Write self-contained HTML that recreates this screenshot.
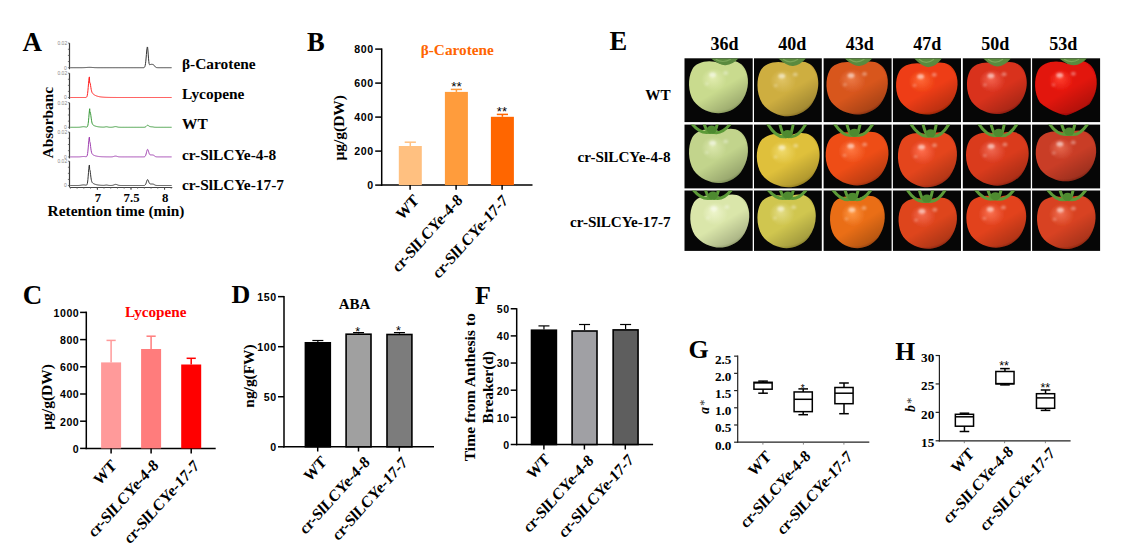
<!DOCTYPE html>
<html><head><meta charset="utf-8"><style>
html,body{margin:0;padding:0;background:#fff;width:1126px;height:556px;overflow:hidden}
svg{display:block}
</style></head><body>
<svg width="1126" height="556" viewBox="0 0 1126 556">
<rect width="1126" height="556" fill="#fff"/>
<text x="22.5" y="50.5" font-family='"Liberation Serif", serif' font-size="27" font-weight="bold" fill="#000" text-anchor="start" >A</text>
<line x1="69.50" y1="43.10" x2="69.50" y2="69.20" stroke="#3a3a3a" stroke-width="1.2" stroke-linecap="butt"/>
<line x1="67.90" y1="43.10" x2="69.50" y2="43.10" stroke="#555" stroke-width="0.8" stroke-linecap="butt"/>
<line x1="67.90" y1="49.25" x2="69.50" y2="49.25" stroke="#555" stroke-width="0.8" stroke-linecap="butt"/>
<line x1="67.90" y1="55.40" x2="69.50" y2="55.40" stroke="#555" stroke-width="0.8" stroke-linecap="butt"/>
<line x1="67.90" y1="61.55" x2="69.50" y2="61.55" stroke="#555" stroke-width="0.8" stroke-linecap="butt"/>
<line x1="67.90" y1="67.70" x2="69.50" y2="67.70" stroke="#555" stroke-width="0.8" stroke-linecap="butt"/>
<text x="67.2" y="45.1" font-family='"Liberation Sans", sans-serif' font-size="5" font-weight="normal" fill="#888" text-anchor="end" >0.02</text>
<text x="66.8" y="69.5" font-family='"Liberation Sans", sans-serif' font-size="5" font-weight="normal" fill="#888" text-anchor="end" >0</text>
<polyline points="70.2,67.70 70.5,67.70 70.8,67.70 71.1,67.70 71.4,67.70 71.7,67.70 72.0,67.70 72.3,67.70 72.6,67.70 72.9,67.70 73.2,67.70 73.5,67.70 73.8,67.70 74.1,67.70 74.4,67.70 74.7,67.70 75.0,67.70 75.3,67.70 75.6,67.70 75.9,67.70 76.2,67.70 76.5,67.70 76.8,67.70 77.1,67.70 77.4,67.70 77.7,67.70 78.0,67.70 78.3,67.70 78.6,67.70 78.9,67.70 79.2,67.70 79.5,67.70 79.8,67.70 80.1,67.70 80.4,67.70 80.7,67.70 81.0,67.69 81.3,67.69 81.6,67.69 81.9,67.69 82.2,67.68 82.5,67.68 82.8,67.67 83.1,67.66 83.4,67.66 83.7,67.65 84.0,67.63 84.3,67.62 84.6,67.61 84.9,67.59 85.2,67.57 85.5,67.56 85.8,67.54 86.1,67.52 86.4,67.49 86.7,67.47 87.0,67.45 87.3,67.43 87.6,67.41 87.9,67.40 88.2,67.38 88.5,67.37 88.8,67.36 89.1,67.35 89.4,67.35 89.7,67.35 90.0,67.35 90.3,67.36 90.6,67.37 90.9,67.39 91.2,67.40 91.5,67.42 91.8,67.44 92.1,67.46 92.4,67.48 92.7,67.50 93.0,67.52 93.3,67.54 93.6,67.56 93.9,67.58 94.2,67.60 94.5,67.61 94.8,67.63 95.1,67.64 95.4,67.65 95.7,67.66 96.0,67.67 96.3,67.67 96.6,67.68 96.9,67.68 97.2,67.69 97.5,67.69 97.8,67.69 98.1,67.69 98.4,67.70 98.7,67.70 99.0,67.70 99.3,67.70 99.6,67.70 99.9,67.70 100.2,67.70 100.5,67.70 100.8,67.70 101.1,67.70 101.4,67.70 101.7,67.70 102.0,67.70 102.3,67.70 102.6,67.70 102.9,67.70 103.2,67.70 103.5,67.70 103.8,67.70 104.1,67.70 104.4,67.70 104.7,67.70 105.0,67.70 105.3,67.70 105.6,67.70 105.9,67.70 106.2,67.70 106.5,67.70 106.8,67.70 107.1,67.70 107.4,67.70 107.7,67.70 108.0,67.70 108.3,67.70 108.6,67.70 108.9,67.70 109.2,67.70 109.5,67.70 109.8,67.70 110.1,67.70 110.4,67.70 110.7,67.70 111.0,67.70 111.3,67.70 111.6,67.70 111.9,67.70 112.2,67.70 112.5,67.70 112.8,67.70 113.1,67.70 113.4,67.70 113.7,67.70 114.0,67.70 114.3,67.70 114.6,67.70 114.9,67.70 115.2,67.70 115.5,67.70 115.8,67.70 116.1,67.70 116.4,67.70 116.7,67.70 117.0,67.70 117.3,67.70 117.6,67.70 117.9,67.70 118.2,67.70 118.5,67.70 118.8,67.70 119.1,67.70 119.4,67.70 119.7,67.70 120.0,67.70 120.3,67.70 120.6,67.70 120.9,67.70 121.2,67.70 121.5,67.70 121.8,67.70 122.1,67.70 122.4,67.70 122.7,67.70 123.0,67.70 123.3,67.70 123.6,67.70 123.9,67.70 124.2,67.70 124.5,67.70 124.8,67.70 125.1,67.70 125.4,67.70 125.7,67.70 126.0,67.70 126.3,67.70 126.6,67.70 126.9,67.70 127.2,67.70 127.5,67.70 127.8,67.70 128.1,67.70 128.4,67.70 128.7,67.70 129.0,67.70 129.3,67.70 129.6,67.70 129.9,67.70 130.2,67.70 130.5,67.70 130.8,67.70 131.1,67.70 131.4,67.70 131.7,67.70 132.0,67.70 132.3,67.70 132.6,67.70 132.9,67.70 133.2,67.70 133.5,67.70 133.8,67.70 134.1,67.70 134.4,67.70 134.7,67.70 135.0,67.70 135.3,67.70 135.6,67.70 135.9,67.70 136.2,67.70 136.5,67.70 136.8,67.70 137.1,67.70 137.4,67.70 137.7,67.70 138.0,67.70 138.3,67.70 138.6,67.70 138.9,67.70 139.2,67.70 139.5,67.70 139.8,67.70 140.1,67.70 140.4,67.70 140.7,67.70 141.0,67.70 141.3,67.70 141.6,67.70 141.9,67.70 142.2,67.70 142.5,67.70 142.8,67.70 143.1,67.70 143.4,67.69 143.7,67.66 144.0,67.59 144.3,67.43 144.6,67.11 144.9,66.48 145.2,65.38 145.5,63.65 145.8,61.18 146.1,58.03 146.4,54.48 146.7,51.03 147.0,48.34 147.3,46.95 147.6,47.39 147.9,50.06 148.2,54.07 148.5,58.21 148.8,61.50 149.1,63.56 149.4,64.51 149.7,64.76 150.0,64.70 150.3,64.57 150.6,64.47 150.9,64.40 151.2,64.36 151.5,64.34 151.8,64.34 152.1,64.36 152.4,64.39 152.7,64.44 153.0,64.52 153.3,64.65 153.6,64.84 153.9,65.11 154.2,65.45 154.5,65.86 154.8,66.28 155.1,66.67 155.4,66.99 155.7,67.23 156.0,67.40 156.3,67.51 156.6,67.58 156.9,67.63 157.2,67.66 157.5,67.67 157.8,67.68 158.1,67.69 158.4,67.69 158.7,67.70 159.0,67.70 159.3,67.70 159.6,67.70 159.9,67.70 160.2,67.70 160.5,67.70 160.8,67.70 161.1,67.70 161.4,67.70 161.7,67.70 162.0,67.70 162.3,67.70 162.6,67.70 162.9,67.70 163.2,67.70 163.5,67.70 163.8,67.70 164.1,67.70 164.4,67.70 164.7,67.70 165.0,67.70 165.3,67.70 165.6,67.70 165.9,67.70 166.2,67.70 166.5,67.70 166.8,67.70 167.1,67.70 167.4,67.70 167.7,67.70 168.0,67.70 168.3,67.70 168.6,67.70 168.9,67.70 169.2,67.70 169.5,67.70 169.8,67.70 170.1,67.70 170.4,67.70 170.7,67.70 171.0,67.70 171.3,67.70 171.6,67.70" fill="none" stroke="#333" stroke-width="1.0" stroke-linejoin="round"/>
<line x1="69.50" y1="73.20" x2="69.50" y2="99.00" stroke="#3a3a3a" stroke-width="1.2" stroke-linecap="butt"/>
<line x1="67.90" y1="73.20" x2="69.50" y2="73.20" stroke="#555" stroke-width="0.8" stroke-linecap="butt"/>
<line x1="67.90" y1="79.28" x2="69.50" y2="79.28" stroke="#555" stroke-width="0.8" stroke-linecap="butt"/>
<line x1="67.90" y1="85.35" x2="69.50" y2="85.35" stroke="#555" stroke-width="0.8" stroke-linecap="butt"/>
<line x1="67.90" y1="91.42" x2="69.50" y2="91.42" stroke="#555" stroke-width="0.8" stroke-linecap="butt"/>
<line x1="67.90" y1="97.50" x2="69.50" y2="97.50" stroke="#555" stroke-width="0.8" stroke-linecap="butt"/>
<text x="67.2" y="75.2" font-family='"Liberation Sans", sans-serif' font-size="5" font-weight="normal" fill="#888" text-anchor="end" >0.02</text>
<text x="66.8" y="99.3" font-family='"Liberation Sans", sans-serif' font-size="5" font-weight="normal" fill="#888" text-anchor="end" >0</text>
<polyline points="70.2,97.50 70.5,97.50 70.8,97.50 71.1,97.50 71.4,97.50 71.7,97.50 72.0,97.50 72.3,97.50 72.6,97.50 72.9,97.50 73.2,97.50 73.5,97.50 73.8,97.50 74.1,97.50 74.4,97.50 74.7,97.50 75.0,97.50 75.3,97.50 75.6,97.50 75.9,97.50 76.2,97.50 76.5,97.50 76.8,97.50 77.1,97.50 77.4,97.50 77.7,97.50 78.0,97.50 78.3,97.50 78.6,97.50 78.9,97.50 79.2,97.50 79.5,97.50 79.8,97.50 80.1,97.50 80.4,97.50 80.7,97.50 81.0,97.50 81.3,97.50 81.6,97.50 81.9,97.50 82.2,97.50 82.5,97.50 82.8,97.50 83.1,97.50 83.4,97.50 83.7,97.50 84.0,97.50 84.3,97.50 84.6,97.50 84.9,97.50 85.2,97.50 85.5,97.49 85.8,97.47 86.1,97.41 86.4,97.27 86.7,96.96 87.0,96.34 87.3,95.23 87.6,93.42 87.9,90.81 88.2,87.47 88.5,83.76 88.8,80.29 89.1,77.81 89.4,76.90 89.7,82.86 90.0,82.61 90.3,83.80 90.6,85.66 90.9,87.64 91.2,89.40 91.5,90.79 91.8,91.83 92.1,92.56 92.4,93.09 92.7,93.49 93.0,93.80 93.3,94.07 93.6,94.32 93.9,94.54 94.2,94.74 94.5,94.93 94.8,95.11 95.1,95.27 95.4,95.43 95.7,95.57 96.0,95.70 96.3,95.83 96.6,95.94 96.9,96.05 97.2,96.15 97.5,96.24 97.8,96.33 98.1,96.41 98.4,96.48 98.7,96.55 99.0,96.62 99.3,96.68 99.6,96.74 99.9,96.79 100.2,96.84 100.5,96.88 100.8,96.93 101.1,96.97 101.4,97.00 101.7,97.04 102.0,97.07 102.3,97.10 102.6,97.13 102.9,97.15 103.2,97.18 103.5,97.20 103.8,97.22 104.1,97.24 104.4,97.26 104.7,97.27 105.0,97.29 105.3,97.30 105.6,97.32 105.9,97.33 106.2,97.34 106.5,97.35 106.8,97.36 107.1,97.37 107.4,97.38 107.7,97.39 108.0,97.40 108.3,97.40 108.6,97.41 108.9,97.42 109.2,97.42 109.5,97.43 109.8,97.43 110.1,97.44 110.4,97.44 110.7,97.45 111.0,97.45 111.3,97.45 111.6,97.46 111.9,97.46 112.2,97.46 112.5,97.46 112.8,97.47 113.1,97.47 113.4,97.47 113.7,97.47 114.0,97.48 114.3,97.48 114.6,97.48 114.9,97.48 115.2,97.48 115.5,97.48 115.8,97.48 116.1,97.48 116.4,97.49 116.7,97.49 117.0,97.49 117.3,97.49 117.6,97.49 117.9,97.49 118.2,97.49 118.5,97.49 118.8,97.49 119.1,97.49 119.4,97.49 119.7,97.49 120.0,97.49 120.3,97.49 120.6,97.49 120.9,97.50 121.2,97.50 121.5,97.50 121.8,97.50 122.1,97.50 122.4,97.50 122.7,97.50 123.0,97.50 123.3,97.50 123.6,97.50 123.9,97.50 124.2,97.50 124.5,97.50 124.8,97.50 125.1,97.50 125.4,97.50 125.7,97.50 126.0,97.50 126.3,97.50 126.6,97.50 126.9,97.50 127.2,97.50 127.5,97.50 127.8,97.50 128.1,97.50 128.4,97.50 128.7,97.50 129.0,97.50 129.3,97.50 129.6,97.50 129.9,97.50 130.2,97.50 130.5,97.50 130.8,97.50 131.1,97.50 131.4,97.50 131.7,97.50 132.0,97.50 132.3,97.50 132.6,97.50 132.9,97.50 133.2,97.50 133.5,97.50 133.8,97.50 134.1,97.50 134.4,97.50 134.7,97.50 135.0,97.50 135.3,97.50 135.6,97.50 135.9,97.50 136.2,97.50 136.5,97.50 136.8,97.50 137.1,97.50 137.4,97.50 137.7,97.50 138.0,97.50 138.3,97.50 138.6,97.50 138.9,97.50 139.2,97.50 139.5,97.50 139.8,97.50 140.1,97.50 140.4,97.50 140.7,97.50 141.0,97.50 141.3,97.50 141.6,97.50 141.9,97.50 142.2,97.50 142.5,97.50 142.8,97.50 143.1,97.50 143.4,97.50 143.7,97.50 144.0,97.50 144.3,97.50 144.6,97.50 144.9,97.50 145.2,97.50 145.5,97.50 145.8,97.50 146.1,97.50 146.4,97.50 146.7,97.50 147.0,97.50 147.3,97.50 147.6,97.50 147.9,97.50 148.2,97.50 148.5,97.50 148.8,97.50 149.1,97.50 149.4,97.50 149.7,97.50 150.0,97.50 150.3,97.50 150.6,97.50 150.9,97.50 151.2,97.50 151.5,97.50 151.8,97.50 152.1,97.50 152.4,97.50 152.7,97.50 153.0,97.50 153.3,97.50 153.6,97.50 153.9,97.50 154.2,97.50 154.5,97.50 154.8,97.50 155.1,97.50 155.4,97.50 155.7,97.50 156.0,97.50 156.3,97.50 156.6,97.50 156.9,97.50 157.2,97.50 157.5,97.50 157.8,97.50 158.1,97.50 158.4,97.50 158.7,97.50 159.0,97.50 159.3,97.50 159.6,97.50 159.9,97.50 160.2,97.50 160.5,97.50 160.8,97.50 161.1,97.50 161.4,97.50 161.7,97.50 162.0,97.50 162.3,97.50 162.6,97.50 162.9,97.50 163.2,97.50 163.5,97.50 163.8,97.50 164.1,97.50 164.4,97.50 164.7,97.50 165.0,97.50 165.3,97.50 165.6,97.50 165.9,97.50 166.2,97.50 166.5,97.50 166.8,97.50 167.1,97.50 167.4,97.50 167.7,97.50 168.0,97.50 168.3,97.50 168.6,97.50 168.9,97.50 169.2,97.50 169.5,97.50 169.8,97.50 170.1,97.50 170.4,97.50 170.7,97.50 171.0,97.50 171.3,97.50 171.6,97.50" fill="none" stroke="#FF2020" stroke-width="1.0" stroke-linejoin="round"/>
<line x1="69.50" y1="102.70" x2="69.50" y2="128.80" stroke="#3a3a3a" stroke-width="1.2" stroke-linecap="butt"/>
<line x1="67.90" y1="102.70" x2="69.50" y2="102.70" stroke="#555" stroke-width="0.8" stroke-linecap="butt"/>
<line x1="67.90" y1="108.85" x2="69.50" y2="108.85" stroke="#555" stroke-width="0.8" stroke-linecap="butt"/>
<line x1="67.90" y1="115.00" x2="69.50" y2="115.00" stroke="#555" stroke-width="0.8" stroke-linecap="butt"/>
<line x1="67.90" y1="121.15" x2="69.50" y2="121.15" stroke="#555" stroke-width="0.8" stroke-linecap="butt"/>
<line x1="67.90" y1="127.30" x2="69.50" y2="127.30" stroke="#555" stroke-width="0.8" stroke-linecap="butt"/>
<text x="67.2" y="104.7" font-family='"Liberation Sans", sans-serif' font-size="5" font-weight="normal" fill="#888" text-anchor="end" >0.02</text>
<text x="66.8" y="129.1" font-family='"Liberation Sans", sans-serif' font-size="5" font-weight="normal" fill="#888" text-anchor="end" >0</text>
<polyline points="70.2,127.30 70.5,127.30 70.8,127.30 71.1,127.30 71.4,127.30 71.7,127.30 72.0,127.30 72.3,127.30 72.6,127.30 72.9,127.30 73.2,127.30 73.5,127.30 73.8,127.30 74.1,127.30 74.4,127.30 74.7,127.30 75.0,127.30 75.3,127.30 75.6,127.30 75.9,127.30 76.2,127.30 76.5,127.30 76.8,127.30 77.1,127.30 77.4,127.29 77.7,127.29 78.0,127.29 78.3,127.28 78.6,127.27 78.9,127.26 79.2,127.24 79.5,127.22 79.8,127.19 80.1,127.16 80.4,127.12 80.7,127.07 81.0,127.03 81.3,126.97 81.6,126.92 81.9,126.86 82.2,126.81 82.5,126.77 82.8,126.74 83.1,126.71 83.4,126.70 83.7,126.70 84.0,126.72 84.3,126.75 84.6,126.78 84.9,126.83 85.2,126.88 85.5,126.94 85.8,126.99 86.1,127.04 86.4,127.07 86.7,127.07 87.0,126.99 87.3,126.75 87.6,126.21 87.9,125.17 88.2,123.43 88.5,120.86 88.8,117.56 89.1,113.96 89.4,110.75 89.7,108.71 90.0,113.21 90.3,112.55 90.6,113.68 90.9,115.76 91.2,118.11 91.5,120.24 91.8,121.94 92.1,123.15 92.4,123.97 92.7,124.50 93.0,124.85 93.3,125.11 93.6,125.31 93.9,125.48 94.2,125.63 94.5,125.77 94.8,125.89 95.1,126.01 95.4,126.12 95.7,126.21 96.0,126.30 96.3,126.38 96.6,126.46 96.9,126.53 97.2,126.59 97.5,126.65 97.8,126.70 98.1,126.75 98.4,126.80 98.7,126.84 99.0,126.88 99.3,126.91 99.6,126.94 99.9,126.97 100.2,127.00 100.5,127.02 100.8,127.05 101.1,127.07 101.4,127.09 101.7,127.10 102.0,127.12 102.3,127.13 102.6,127.14 102.9,127.15 103.2,127.15 103.5,127.15 103.8,127.13 104.1,127.11 104.4,127.07 104.7,127.03 105.0,126.97 105.3,126.90 105.6,126.84 105.9,126.79 106.2,126.76 106.5,126.75 106.8,126.77 107.1,126.81 107.4,126.87 107.7,126.94 108.0,127.01 108.3,127.08 108.6,127.14 108.9,127.18 109.2,127.22 109.5,127.24 109.8,127.26 110.1,127.27 110.4,127.27 110.7,127.27 111.0,127.27 111.3,127.26 111.6,127.25 111.9,127.23 112.2,127.21 112.5,127.17 112.8,127.12 113.1,127.07 113.4,127.00 113.7,126.92 114.0,126.84 114.3,126.77 114.6,126.70 114.9,126.64 115.2,126.61 115.5,126.60 115.8,126.61 116.1,126.64 116.4,126.70 116.7,126.77 117.0,126.85 117.3,126.93 117.6,127.00 117.9,127.07 118.2,127.13 118.5,127.18 118.8,127.22 119.1,127.24 119.4,127.26 119.7,127.28 120.0,127.29 120.3,127.29 120.6,127.29 120.9,127.30 121.2,127.30 121.5,127.30 121.8,127.30 122.1,127.30 122.4,127.30 122.7,127.30 123.0,127.30 123.3,127.30 123.6,127.30 123.9,127.30 124.2,127.30 124.5,127.30 124.8,127.30 125.1,127.30 125.4,127.30 125.7,127.30 126.0,127.30 126.3,127.30 126.6,127.30 126.9,127.30 127.2,127.30 127.5,127.30 127.8,127.30 128.1,127.30 128.4,127.30 128.7,127.30 129.0,127.30 129.3,127.30 129.6,127.30 129.9,127.30 130.2,127.30 130.5,127.30 130.8,127.30 131.1,127.30 131.4,127.30 131.7,127.30 132.0,127.30 132.3,127.30 132.6,127.30 132.9,127.30 133.2,127.30 133.5,127.30 133.8,127.30 134.1,127.30 134.4,127.30 134.7,127.30 135.0,127.30 135.3,127.30 135.6,127.30 135.9,127.30 136.2,127.30 136.5,127.30 136.8,127.30 137.1,127.30 137.4,127.30 137.7,127.30 138.0,127.30 138.3,127.30 138.6,127.30 138.9,127.30 139.2,127.30 139.5,127.30 139.8,127.30 140.1,127.30 140.4,127.30 140.7,127.30 141.0,127.30 141.3,127.30 141.6,127.30 141.9,127.30 142.2,127.30 142.5,127.30 142.8,127.30 143.1,127.30 143.4,127.30 143.7,127.29 144.0,127.28 144.3,127.25 144.6,127.21 144.9,127.14 145.2,127.03 145.5,126.87 145.8,126.65 146.1,126.38 146.4,126.09 146.7,125.79 147.0,125.53 147.3,125.36 147.6,125.29 147.9,125.34 148.2,125.48 148.5,125.68 148.8,125.91 149.1,126.13 149.4,126.31 149.7,126.45 150.0,126.56 150.3,126.64 150.6,126.70 150.9,126.75 151.2,126.78 151.5,126.80 151.8,126.82 152.1,126.84 152.4,126.87 152.7,126.90 153.0,126.95 153.3,127.01 153.6,127.07 153.9,127.13 154.2,127.18 154.5,127.22 154.8,127.25 155.1,127.27 155.4,127.28 155.7,127.29 156.0,127.29 156.3,127.30 156.6,127.30 156.9,127.30 157.2,127.30 157.5,127.30 157.8,127.30 158.1,127.30 158.4,127.30 158.7,127.30 159.0,127.30 159.3,127.30 159.6,127.30 159.9,127.30 160.2,127.30 160.5,127.30 160.8,127.30 161.1,127.30 161.4,127.30 161.7,127.30 162.0,127.30 162.3,127.30 162.6,127.30 162.9,127.30 163.2,127.30 163.5,127.30 163.8,127.30 164.1,127.30 164.4,127.30 164.7,127.30 165.0,127.30 165.3,127.30 165.6,127.30 165.9,127.30 166.2,127.30 166.5,127.30 166.8,127.30 167.1,127.30 167.4,127.30 167.7,127.30 168.0,127.30 168.3,127.30 168.6,127.30 168.9,127.30 169.2,127.30 169.5,127.30 169.8,127.30 170.1,127.30 170.4,127.30 170.7,127.30 171.0,127.30 171.3,127.30 171.6,127.30" fill="none" stroke="#3A9A3A" stroke-width="1.0" stroke-linejoin="round"/>
<line x1="69.50" y1="132.10" x2="69.50" y2="158.40" stroke="#3a3a3a" stroke-width="1.2" stroke-linecap="butt"/>
<line x1="67.90" y1="132.10" x2="69.50" y2="132.10" stroke="#555" stroke-width="0.8" stroke-linecap="butt"/>
<line x1="67.90" y1="138.30" x2="69.50" y2="138.30" stroke="#555" stroke-width="0.8" stroke-linecap="butt"/>
<line x1="67.90" y1="144.50" x2="69.50" y2="144.50" stroke="#555" stroke-width="0.8" stroke-linecap="butt"/>
<line x1="67.90" y1="150.70" x2="69.50" y2="150.70" stroke="#555" stroke-width="0.8" stroke-linecap="butt"/>
<line x1="67.90" y1="156.90" x2="69.50" y2="156.90" stroke="#555" stroke-width="0.8" stroke-linecap="butt"/>
<text x="67.2" y="134.1" font-family='"Liberation Sans", sans-serif' font-size="5" font-weight="normal" fill="#888" text-anchor="end" >0.02</text>
<text x="66.8" y="158.7" font-family='"Liberation Sans", sans-serif' font-size="5" font-weight="normal" fill="#888" text-anchor="end" >0</text>
<polyline points="70.2,156.90 70.5,156.90 70.8,156.90 71.1,156.90 71.4,156.90 71.7,156.90 72.0,156.90 72.3,156.90 72.6,156.90 72.9,156.90 73.2,156.90 73.5,156.90 73.8,156.90 74.1,156.90 74.4,156.90 74.7,156.90 75.0,156.90 75.3,156.90 75.6,156.90 75.9,156.90 76.2,156.90 76.5,156.90 76.8,156.90 77.1,156.90 77.4,156.90 77.7,156.89 78.0,156.89 78.3,156.89 78.6,156.88 78.9,156.87 79.2,156.86 79.5,156.85 79.8,156.83 80.1,156.81 80.4,156.78 80.7,156.75 81.0,156.72 81.3,156.68 81.6,156.65 81.9,156.61 82.2,156.58 82.5,156.55 82.8,156.52 83.1,156.51 83.4,156.50 83.7,156.50 84.0,156.51 84.3,156.53 84.6,156.56 84.9,156.59 85.2,156.62 85.5,156.65 85.8,156.68 86.1,156.68 86.4,156.62 86.7,156.44 87.0,156.00 87.3,155.11 87.6,153.56 87.9,151.17 88.2,147.96 88.5,144.24 88.8,140.67 89.1,138.06 89.4,137.09 89.7,141.50 90.0,142.16 90.3,144.09 90.6,146.51 90.9,148.85 91.2,150.78 91.5,152.21 91.8,153.18 92.1,153.82 92.4,154.24 92.7,154.54 93.0,154.76 93.3,154.95 93.6,155.11 93.9,155.26 94.2,155.39 94.5,155.52 94.8,155.63 95.1,155.73 95.4,155.83 95.7,155.92 96.0,156.00 96.3,156.07 96.6,156.14 96.9,156.20 97.2,156.26 97.5,156.31 97.8,156.36 98.1,156.41 98.4,156.45 98.7,156.48 99.0,156.52 99.3,156.55 99.6,156.58 99.9,156.60 100.2,156.63 100.5,156.65 100.8,156.67 101.1,156.69 101.4,156.71 101.7,156.72 102.0,156.74 102.3,156.75 102.6,156.76 102.9,156.77 103.2,156.78 103.5,156.79 103.8,156.80 104.1,156.81 104.4,156.82 104.7,156.82 105.0,156.83 105.3,156.84 105.6,156.84 105.9,156.85 106.2,156.85 106.5,156.86 106.8,156.86 107.1,156.86 107.4,156.87 107.7,156.87 108.0,156.87 108.3,156.87 108.6,156.88 108.9,156.88 109.2,156.88 109.5,156.88 109.8,156.88 110.1,156.88 110.4,156.88 110.7,156.88 111.0,156.87 111.3,156.86 111.6,156.85 111.9,156.83 112.2,156.80 112.5,156.75 112.8,156.70 113.1,156.63 113.4,156.56 113.7,156.47 114.0,156.38 114.3,156.29 114.6,156.21 114.9,156.15 115.2,156.11 115.5,156.10 115.8,156.11 116.1,156.15 116.4,156.21 116.7,156.29 117.0,156.38 117.3,156.47 117.6,156.56 117.9,156.64 118.2,156.71 118.5,156.76 118.8,156.80 119.1,156.84 119.4,156.86 119.7,156.87 120.0,156.88 120.3,156.89 120.6,156.89 120.9,156.90 121.2,156.90 121.5,156.90 121.8,156.90 122.1,156.90 122.4,156.90 122.7,156.90 123.0,156.90 123.3,156.90 123.6,156.90 123.9,156.90 124.2,156.90 124.5,156.90 124.8,156.90 125.1,156.90 125.4,156.90 125.7,156.90 126.0,156.90 126.3,156.90 126.6,156.90 126.9,156.90 127.2,156.90 127.5,156.90 127.8,156.90 128.1,156.90 128.4,156.90 128.7,156.90 129.0,156.90 129.3,156.90 129.6,156.90 129.9,156.90 130.2,156.90 130.5,156.90 130.8,156.90 131.1,156.90 131.4,156.90 131.7,156.90 132.0,156.90 132.3,156.90 132.6,156.90 132.9,156.90 133.2,156.90 133.5,156.90 133.8,156.90 134.1,156.90 134.4,156.90 134.7,156.90 135.0,156.90 135.3,156.90 135.6,156.90 135.9,156.90 136.2,156.90 136.5,156.90 136.8,156.90 137.1,156.90 137.4,156.90 137.7,156.90 138.0,156.90 138.3,156.90 138.6,156.90 138.9,156.90 139.2,156.90 139.5,156.90 139.8,156.90 140.1,156.90 140.4,156.90 140.7,156.90 141.0,156.90 141.3,156.90 141.6,156.90 141.9,156.90 142.2,156.90 142.5,156.90 142.8,156.90 143.1,156.90 143.4,156.89 143.7,156.89 144.0,156.86 144.3,156.82 144.6,156.72 144.9,156.53 145.2,156.21 145.5,155.69 145.8,154.93 146.1,153.94 146.4,152.76 146.7,151.53 147.0,150.43 147.3,149.66 147.6,149.37 147.9,149.62 148.2,150.33 148.5,151.34 148.8,152.41 149.1,153.36 149.4,154.04 149.7,154.47 150.0,154.70 150.3,154.82 150.6,154.88 150.9,154.91 151.2,154.92 151.5,154.92 151.8,154.93 152.1,154.94 152.4,154.96 152.7,155.00 153.0,155.05 153.3,155.14 153.6,155.27 153.9,155.44 154.2,155.66 154.5,155.90 154.8,156.14 155.1,156.36 155.4,156.54 155.7,156.66 156.0,156.75 156.3,156.81 156.6,156.84 156.9,156.86 157.2,156.88 157.5,156.89 157.8,156.89 158.1,156.90 158.4,156.90 158.7,156.90 159.0,156.90 159.3,156.90 159.6,156.90 159.9,156.90 160.2,156.90 160.5,156.90 160.8,156.90 161.1,156.90 161.4,156.90 161.7,156.90 162.0,156.90 162.3,156.90 162.6,156.90 162.9,156.90 163.2,156.90 163.5,156.90 163.8,156.90 164.1,156.90 164.4,156.90 164.7,156.90 165.0,156.90 165.3,156.90 165.6,156.90 165.9,156.90 166.2,156.90 166.5,156.90 166.8,156.90 167.1,156.90 167.4,156.90 167.7,156.90 168.0,156.90 168.3,156.90 168.6,156.90 168.9,156.90 169.2,156.90 169.5,156.90 169.8,156.90 170.1,156.90 170.4,156.90 170.7,156.90 171.0,156.90 171.3,156.90 171.6,156.90" fill="none" stroke="#A040B0" stroke-width="1.0" stroke-linejoin="round"/>
<line x1="69.50" y1="161.20" x2="69.50" y2="187.00" stroke="#3a3a3a" stroke-width="1.2" stroke-linecap="butt"/>
<line x1="67.90" y1="161.20" x2="69.50" y2="161.20" stroke="#555" stroke-width="0.8" stroke-linecap="butt"/>
<line x1="67.90" y1="167.27" x2="69.50" y2="167.27" stroke="#555" stroke-width="0.8" stroke-linecap="butt"/>
<line x1="67.90" y1="173.35" x2="69.50" y2="173.35" stroke="#555" stroke-width="0.8" stroke-linecap="butt"/>
<line x1="67.90" y1="179.43" x2="69.50" y2="179.43" stroke="#555" stroke-width="0.8" stroke-linecap="butt"/>
<line x1="67.90" y1="185.50" x2="69.50" y2="185.50" stroke="#555" stroke-width="0.8" stroke-linecap="butt"/>
<text x="67.2" y="163.2" font-family='"Liberation Sans", sans-serif' font-size="5" font-weight="normal" fill="#888" text-anchor="end" >0.02</text>
<text x="66.8" y="187.3" font-family='"Liberation Sans", sans-serif' font-size="5" font-weight="normal" fill="#888" text-anchor="end" >0</text>
<polyline points="70.2,185.50 70.5,185.50 70.8,185.50 71.1,185.50 71.4,185.50 71.7,185.50 72.0,185.50 72.3,185.50 72.6,185.50 72.9,185.50 73.2,185.50 73.5,185.50 73.8,185.50 74.1,185.50 74.4,185.50 74.7,185.50 75.0,185.50 75.3,185.50 75.6,185.50 75.9,185.50 76.2,185.50 76.5,185.50 76.8,185.50 77.1,185.50 77.4,185.49 77.7,185.49 78.0,185.49 78.3,185.48 78.6,185.47 78.9,185.46 79.2,185.44 79.5,185.42 79.8,185.39 80.1,185.36 80.4,185.32 80.7,185.27 81.0,185.23 81.3,185.17 81.6,185.12 81.9,185.06 82.2,185.01 82.5,184.97 82.8,184.94 83.1,184.91 83.4,184.90 83.7,184.90 84.0,184.92 84.3,184.95 84.6,184.98 84.9,185.03 85.2,185.08 85.5,185.13 85.8,185.17 86.1,185.19 86.4,185.15 86.7,184.97 87.0,184.53 87.3,183.62 87.6,182.02 87.9,179.55 88.2,176.23 88.5,172.39 88.8,168.69 89.1,165.99 89.4,164.99 89.7,169.56 90.0,170.24 90.3,172.23 90.6,174.74 90.9,177.16 91.2,179.17 91.5,180.64 91.8,181.65 92.1,182.31 92.4,182.75 92.7,183.05 93.0,183.28 93.3,183.48 93.6,183.65 93.9,183.80 94.2,183.94 94.5,184.07 94.8,184.19 95.1,184.29 95.4,184.39 95.7,184.48 96.0,184.57 96.3,184.64 96.6,184.71 96.9,184.78 97.2,184.84 97.5,184.89 97.8,184.94 98.1,184.99 98.4,185.03 98.7,185.07 99.0,185.10 99.3,185.14 99.6,185.17 99.9,185.19 100.2,185.22 100.5,185.24 100.8,185.26 101.1,185.28 101.4,185.30 101.7,185.32 102.0,185.33 102.3,185.34 102.6,185.35 102.9,185.36 103.2,185.36 103.5,185.36 103.8,185.35 104.1,185.34 104.4,185.31 104.7,185.27 105.0,185.22 105.3,185.17 105.6,185.13 105.9,185.09 106.2,185.06 106.5,185.05 106.8,185.07 107.1,185.10 107.4,185.15 107.7,185.21 108.0,185.26 108.3,185.32 108.6,185.37 108.9,185.40 109.2,185.43 109.5,185.45 109.8,185.46 110.1,185.47 110.4,185.48 110.7,185.48 111.0,185.47 111.3,185.46 111.6,185.45 111.9,185.42 112.2,185.39 112.5,185.34 112.8,185.28 113.1,185.20 113.4,185.10 113.7,184.99 114.0,184.87 114.3,184.74 114.6,184.63 114.9,184.53 115.2,184.45 115.5,184.41 115.8,184.40 116.1,184.43 116.4,184.50 116.7,184.59 117.0,184.71 117.3,184.83 117.6,184.95 117.9,185.07 118.2,185.17 118.5,185.26 118.8,185.33 119.1,185.38 119.4,185.42 119.7,185.45 120.0,185.47 120.3,185.48 120.6,185.49 120.9,185.49 121.2,185.50 121.5,185.50 121.8,185.50 122.1,185.50 122.4,185.50 122.7,185.50 123.0,185.50 123.3,185.50 123.6,185.50 123.9,185.50 124.2,185.50 124.5,185.50 124.8,185.50 125.1,185.50 125.4,185.50 125.7,185.50 126.0,185.50 126.3,185.50 126.6,185.50 126.9,185.50 127.2,185.50 127.5,185.50 127.8,185.50 128.1,185.50 128.4,185.50 128.7,185.50 129.0,185.50 129.3,185.50 129.6,185.50 129.9,185.50 130.2,185.50 130.5,185.50 130.8,185.50 131.1,185.50 131.4,185.50 131.7,185.50 132.0,185.50 132.3,185.50 132.6,185.50 132.9,185.50 133.2,185.50 133.5,185.50 133.8,185.50 134.1,185.50 134.4,185.50 134.7,185.50 135.0,185.50 135.3,185.50 135.6,185.50 135.9,185.50 136.2,185.50 136.5,185.50 136.8,185.50 137.1,185.50 137.4,185.50 137.7,185.50 138.0,185.50 138.3,185.50 138.6,185.50 138.9,185.50 139.2,185.50 139.5,185.50 139.8,185.50 140.1,185.50 140.4,185.50 140.7,185.50 141.0,185.50 141.3,185.50 141.6,185.50 141.9,185.50 142.2,185.50 142.5,185.50 142.8,185.50 143.1,185.50 143.4,185.50 143.7,185.49 144.0,185.47 144.3,185.43 144.6,185.36 144.9,185.21 145.2,184.95 145.5,184.55 145.8,183.95 146.1,183.17 146.4,182.24 146.7,181.28 147.0,180.41 147.3,179.80 147.6,179.58 147.9,179.77 148.2,180.34 148.5,181.13 148.8,181.98 149.1,182.73 149.4,183.29 149.7,183.63 150.0,183.83 150.3,183.93 150.6,183.98 150.9,184.00 151.2,184.01 151.5,184.02 151.8,184.02 152.1,184.03 152.4,184.05 152.7,184.07 153.0,184.11 153.3,184.18 153.6,184.27 153.9,184.40 154.2,184.57 154.5,184.75 154.8,184.93 155.1,185.10 155.4,185.23 155.7,185.32 156.0,185.39 156.3,185.43 156.6,185.46 156.9,185.47 157.2,185.48 157.5,185.49 157.8,185.49 158.1,185.50 158.4,185.50 158.7,185.50 159.0,185.50 159.3,185.50 159.6,185.50 159.9,185.50 160.2,185.50 160.5,185.50 160.8,185.50 161.1,185.50 161.4,185.50 161.7,185.50 162.0,185.50 162.3,185.50 162.6,185.50 162.9,185.50 163.2,185.50 163.5,185.50 163.8,185.50 164.1,185.50 164.4,185.50 164.7,185.50 165.0,185.50 165.3,185.50 165.6,185.50 165.9,185.50 166.2,185.50 166.5,185.50 166.8,185.50 167.1,185.50 167.4,185.50 167.7,185.50 168.0,185.50 168.3,185.50 168.6,185.50 168.9,185.50 169.2,185.50 169.5,185.50 169.8,185.50 170.1,185.50 170.4,185.50 170.7,185.50 171.0,185.50 171.3,185.50 171.6,185.50" fill="none" stroke="#333" stroke-width="1.0" stroke-linejoin="round"/>
<line x1="69.50" y1="187.50" x2="172.30" y2="187.50" stroke="#444" stroke-width="1.1" stroke-linecap="butt"/>
<line x1="70.40" y1="187.50" x2="70.40" y2="189.00" stroke="#777" stroke-width="0.7" stroke-linecap="butt"/>
<line x1="77.12" y1="187.50" x2="77.12" y2="189.00" stroke="#777" stroke-width="0.7" stroke-linecap="butt"/>
<line x1="83.84" y1="187.50" x2="83.84" y2="189.00" stroke="#777" stroke-width="0.7" stroke-linecap="butt"/>
<line x1="90.56" y1="187.50" x2="90.56" y2="189.00" stroke="#777" stroke-width="0.7" stroke-linecap="butt"/>
<line x1="97.28" y1="187.50" x2="97.28" y2="189.00" stroke="#777" stroke-width="0.7" stroke-linecap="butt"/>
<line x1="104.00" y1="187.50" x2="104.00" y2="189.00" stroke="#777" stroke-width="0.7" stroke-linecap="butt"/>
<line x1="110.72" y1="187.50" x2="110.72" y2="189.00" stroke="#777" stroke-width="0.7" stroke-linecap="butt"/>
<line x1="117.44" y1="187.50" x2="117.44" y2="189.00" stroke="#777" stroke-width="0.7" stroke-linecap="butt"/>
<line x1="124.16" y1="187.50" x2="124.16" y2="189.00" stroke="#777" stroke-width="0.7" stroke-linecap="butt"/>
<line x1="130.88" y1="187.50" x2="130.88" y2="189.00" stroke="#777" stroke-width="0.7" stroke-linecap="butt"/>
<line x1="137.60" y1="187.50" x2="137.60" y2="189.00" stroke="#777" stroke-width="0.7" stroke-linecap="butt"/>
<line x1="144.32" y1="187.50" x2="144.32" y2="189.00" stroke="#777" stroke-width="0.7" stroke-linecap="butt"/>
<line x1="151.04" y1="187.50" x2="151.04" y2="189.00" stroke="#777" stroke-width="0.7" stroke-linecap="butt"/>
<line x1="157.76" y1="187.50" x2="157.76" y2="189.00" stroke="#777" stroke-width="0.7" stroke-linecap="butt"/>
<line x1="164.48" y1="187.50" x2="164.48" y2="189.00" stroke="#777" stroke-width="0.7" stroke-linecap="butt"/>
<line x1="171.20" y1="187.50" x2="171.20" y2="189.00" stroke="#777" stroke-width="0.7" stroke-linecap="butt"/>
<line x1="97.40" y1="187.50" x2="97.40" y2="189.80" stroke="#444" stroke-width="1.0" stroke-linecap="butt"/>
<text x="98.0" y="201.6" font-family='"Liberation Serif", serif' font-size="12.8" font-weight="bold" fill="#000" text-anchor="middle" >7</text>
<line x1="131.00" y1="187.50" x2="131.00" y2="189.80" stroke="#444" stroke-width="1.0" stroke-linecap="butt"/>
<text x="131.6" y="201.6" font-family='"Liberation Serif", serif' font-size="12.8" font-weight="bold" fill="#000" text-anchor="middle" >7.5</text>
<line x1="164.60" y1="187.50" x2="164.60" y2="189.80" stroke="#444" stroke-width="1.0" stroke-linecap="butt"/>
<text x="165.2" y="201.6" font-family='"Liberation Serif", serif' font-size="12.8" font-weight="bold" fill="#000" text-anchor="middle" >8</text>
<text x="116" y="216.3" font-family='"Liberation Serif", serif' font-size="15.4" font-weight="bold" fill="#000" text-anchor="middle" >Retention time (min)</text>
<text transform="translate(53.3,122.7) rotate(-90)" font-family='"Liberation Serif", serif' font-size="15.3" font-weight="bold" fill="#000" text-anchor="middle">Absorbanc</text>
<text x="182" y="69.4" font-family='"Liberation Serif", serif' font-size="15.4" font-weight="bold" fill="#000" text-anchor="start" >β-Carotene</text>
<text x="182" y="99.4" font-family='"Liberation Serif", serif' font-size="15.4" font-weight="bold" fill="#000" text-anchor="start" >Lycopene</text>
<text x="182" y="129.4" font-family='"Liberation Serif", serif' font-size="15.4" font-weight="bold" fill="#000" text-anchor="start" >WT</text>
<text x="182" y="160.1" font-family='"Liberation Serif", serif' font-size="15.4" font-weight="bold" fill="#000" text-anchor="start" >cr-SlLCYe-4-8</text>
<text x="182" y="190.2" font-family='"Liberation Serif", serif' font-size="15.4" font-weight="bold" fill="#000" text-anchor="start" >cr-SlLCYe-17-7</text>
<text x="307" y="50.6" font-family='"Liberation Serif", serif' font-size="26.5" font-weight="bold" fill="#000" text-anchor="start" >B</text>
<line x1="381.70" y1="48.40" x2="381.70" y2="185.85" stroke="#000" stroke-width="1.5" stroke-linecap="butt"/>
<line x1="375.20" y1="185.10" x2="381.70" y2="185.10" stroke="#000" stroke-width="1.5" stroke-linecap="butt"/>
<text x="373.59999999999997" y="189.49" font-family='"Liberation Sans", sans-serif' font-size="10.6" font-weight="bold" text-anchor="end" letter-spacing="0.55">0</text>
<line x1="375.20" y1="151.10" x2="381.70" y2="151.10" stroke="#000" stroke-width="1.5" stroke-linecap="butt"/>
<text x="373.59999999999997" y="155.49" font-family='"Liberation Sans", sans-serif' font-size="10.6" font-weight="bold" text-anchor="end" letter-spacing="0.55">200</text>
<line x1="375.20" y1="117.10" x2="381.70" y2="117.10" stroke="#000" stroke-width="1.5" stroke-linecap="butt"/>
<text x="373.59999999999997" y="121.49" font-family='"Liberation Sans", sans-serif' font-size="10.6" font-weight="bold" text-anchor="end" letter-spacing="0.55">400</text>
<line x1="375.20" y1="83.10" x2="381.70" y2="83.10" stroke="#000" stroke-width="1.5" stroke-linecap="butt"/>
<text x="373.59999999999997" y="87.49" font-family='"Liberation Sans", sans-serif' font-size="10.6" font-weight="bold" text-anchor="end" letter-spacing="0.55">600</text>
<line x1="375.20" y1="49.10" x2="381.70" y2="49.10" stroke="#000" stroke-width="1.5" stroke-linecap="butt"/>
<text x="373.59999999999997" y="53.49" font-family='"Liberation Sans", sans-serif' font-size="10.6" font-weight="bold" text-anchor="end" letter-spacing="0.55">800</text>
<line x1="380.95" y1="185.10" x2="532.50" y2="185.10" stroke="#000" stroke-width="1.5" stroke-linecap="butt"/>
<rect x="398.80" y="146.00" width="23.00" height="39.10" fill="#FFC080"/>
<line x1="410.30" y1="142.20" x2="410.30" y2="146.00" stroke="#FFC080" stroke-width="1.5" stroke-linecap="butt"/>
<line x1="404.70" y1="142.20" x2="415.90" y2="142.20" stroke="#FFC080" stroke-width="1.5" stroke-linecap="butt"/>
<rect x="444.90" y="91.90" width="23.00" height="93.20" fill="#FF9C3C"/>
<line x1="456.40" y1="89.40" x2="456.40" y2="91.90" stroke="#FF9C3C" stroke-width="1.5" stroke-linecap="butt"/>
<line x1="450.80" y1="89.40" x2="462.00" y2="89.40" stroke="#FF9C3C" stroke-width="1.5" stroke-linecap="butt"/>
<rect x="490.90" y="116.80" width="23.00" height="68.30" fill="#FF6600"/>
<line x1="502.40" y1="114.40" x2="502.40" y2="116.80" stroke="#FF6600" stroke-width="1.5" stroke-linecap="butt"/>
<line x1="496.80" y1="114.40" x2="508.00" y2="114.40" stroke="#FF6600" stroke-width="1.5" stroke-linecap="butt"/>
<line x1="410.10" y1="185.10" x2="410.10" y2="189.70" stroke="#000" stroke-width="1.5" stroke-linecap="butt"/>
<line x1="456.10" y1="185.10" x2="456.10" y2="189.70" stroke="#000" stroke-width="1.5" stroke-linecap="butt"/>
<line x1="502.10" y1="185.10" x2="502.10" y2="189.70" stroke="#000" stroke-width="1.5" stroke-linecap="butt"/>
<text x="456.6" y="91.0" font-family='"Liberation Sans", sans-serif' font-size="13.5" font-weight="normal" fill="#000" text-anchor="middle" >**</text>
<text x="501.9" y="116.0" font-family='"Liberation Sans", sans-serif' font-size="13" font-weight="normal" fill="#000" text-anchor="middle" >**</text>
<text x="457.3" y="54.7" font-family='"Liberation Serif", serif' font-size="15.3" font-weight="bold" fill="#FF6600" text-anchor="middle" >β-Carotene</text>
<text transform="translate(344,127.8) rotate(-90)" font-family='"Liberation Serif", serif' font-size="15.5" font-weight="bold" fill="#000" text-anchor="middle">μg/g(DW)</text>
<text transform="translate(419.65,201.35) scale(1,1.11) rotate(-45)" font-family='"Liberation Serif", serif' font-size="15" font-weight="bold" text-anchor="end">WT</text>
<text transform="translate(463.3,201.1) scale(1,1.11) rotate(-45)" font-family='"Liberation Serif", serif' font-size="15" font-weight="bold" text-anchor="end">cr-SlLCYe-4-8</text>
<text transform="translate(508.8,201.5) scale(1,1.11) rotate(-45)" font-family='"Liberation Serif", serif' font-size="15" font-weight="bold" text-anchor="end">cr-SlLCYe-17-7</text>
<text x="22.8" y="303.6" font-family='"Liberation Serif", serif' font-size="27" font-weight="bold" fill="#000" text-anchor="start" >C</text>
<line x1="86.30" y1="311.60" x2="86.30" y2="449.15" stroke="#000" stroke-width="1.5" stroke-linecap="butt"/>
<line x1="80.10" y1="448.40" x2="86.30" y2="448.40" stroke="#000" stroke-width="1.5" stroke-linecap="butt"/>
<text x="79.30000000000001" y="452.79" font-family='"Liberation Sans", sans-serif' font-size="10.6" font-weight="bold" text-anchor="end" letter-spacing="0.55">0</text>
<line x1="80.10" y1="421.20" x2="86.30" y2="421.20" stroke="#000" stroke-width="1.5" stroke-linecap="butt"/>
<text x="79.30000000000001" y="425.59" font-family='"Liberation Sans", sans-serif' font-size="10.6" font-weight="bold" text-anchor="end" letter-spacing="0.55">200</text>
<line x1="80.10" y1="394.00" x2="86.30" y2="394.00" stroke="#000" stroke-width="1.5" stroke-linecap="butt"/>
<text x="79.30000000000001" y="398.39" font-family='"Liberation Sans", sans-serif' font-size="10.6" font-weight="bold" text-anchor="end" letter-spacing="0.55">400</text>
<line x1="80.10" y1="366.80" x2="86.30" y2="366.80" stroke="#000" stroke-width="1.5" stroke-linecap="butt"/>
<text x="79.30000000000001" y="371.19" font-family='"Liberation Sans", sans-serif' font-size="10.6" font-weight="bold" text-anchor="end" letter-spacing="0.55">600</text>
<line x1="80.10" y1="339.60" x2="86.30" y2="339.60" stroke="#000" stroke-width="1.5" stroke-linecap="butt"/>
<text x="79.30000000000001" y="343.99" font-family='"Liberation Sans", sans-serif' font-size="10.6" font-weight="bold" text-anchor="end" letter-spacing="0.55">800</text>
<line x1="80.10" y1="312.40" x2="86.30" y2="312.40" stroke="#000" stroke-width="1.5" stroke-linecap="butt"/>
<text x="79.30000000000001" y="316.79" font-family='"Liberation Sans", sans-serif' font-size="10.6" font-weight="bold" text-anchor="end" letter-spacing="0.55">1000</text>
<line x1="85.55" y1="448.40" x2="215.70" y2="448.40" stroke="#000" stroke-width="1.5" stroke-linecap="butt"/>
<rect x="101.10" y="362.40" width="20.00" height="86.00" fill="#FF9A9A"/>
<line x1="111.10" y1="340.40" x2="111.10" y2="362.40" stroke="#FF9A9A" stroke-width="1.5" stroke-linecap="butt"/>
<line x1="106.50" y1="340.40" x2="115.70" y2="340.40" stroke="#FF9A9A" stroke-width="1.5" stroke-linecap="butt"/>
<line x1="111.10" y1="448.40" x2="111.10" y2="453.40" stroke="#000" stroke-width="1.5" stroke-linecap="butt"/>
<rect x="141.10" y="349.00" width="20.00" height="99.40" fill="#FF7C7C"/>
<line x1="151.10" y1="336.20" x2="151.10" y2="349.00" stroke="#FF7C7C" stroke-width="1.5" stroke-linecap="butt"/>
<line x1="146.50" y1="336.20" x2="155.70" y2="336.20" stroke="#FF7C7C" stroke-width="1.5" stroke-linecap="butt"/>
<line x1="151.10" y1="448.40" x2="151.10" y2="453.40" stroke="#000" stroke-width="1.5" stroke-linecap="butt"/>
<rect x="181.20" y="364.50" width="20.00" height="83.90" fill="#FF0000"/>
<line x1="191.20" y1="358.30" x2="191.20" y2="364.50" stroke="#FF0000" stroke-width="1.5" stroke-linecap="butt"/>
<line x1="186.60" y1="358.30" x2="195.80" y2="358.30" stroke="#FF0000" stroke-width="1.5" stroke-linecap="butt"/>
<line x1="191.20" y1="448.40" x2="191.20" y2="453.40" stroke="#000" stroke-width="1.5" stroke-linecap="butt"/>
<text x="155.7" y="316.7" font-family='"Liberation Serif", serif' font-size="15.2" font-weight="bold" fill="#FF0000" text-anchor="middle" >Lycopene</text>
<text transform="translate(51.5,396.9) rotate(-90)" font-family='"Liberation Serif", serif' font-size="15.5" font-weight="bold" fill="#000" text-anchor="middle">μg/g(DW)</text>
<text transform="translate(117.25,466.6) scale(1,1.11) rotate(-45)" font-family='"Liberation Serif", serif' font-size="15" font-weight="bold" text-anchor="end">WT</text>
<text transform="translate(159.25,466.3) scale(1,1.11) rotate(-45)" font-family='"Liberation Serif", serif' font-size="15" font-weight="bold" text-anchor="end">cr-SlLCYe-4-8</text>
<text transform="translate(200.15,466.75) scale(1,1.11) rotate(-45)" font-family='"Liberation Serif", serif' font-size="15" font-weight="bold" text-anchor="end">cr-SlLCYe-17-7</text>
<text x="231.5" y="302.8" font-family='"Liberation Serif", serif' font-size="26" font-weight="bold" fill="#000" text-anchor="start" >D</text>
<line x1="284.00" y1="296.00" x2="284.00" y2="447.55" stroke="#000" stroke-width="1.5" stroke-linecap="butt"/>
<line x1="278.00" y1="446.80" x2="284.00" y2="446.80" stroke="#000" stroke-width="1.5" stroke-linecap="butt"/>
<text x="276.7" y="451.19" font-family='"Liberation Sans", sans-serif' font-size="10.6" font-weight="bold" text-anchor="end" letter-spacing="0.55">0</text>
<line x1="278.00" y1="396.75" x2="284.00" y2="396.75" stroke="#000" stroke-width="1.5" stroke-linecap="butt"/>
<text x="276.7" y="401.14" font-family='"Liberation Sans", sans-serif' font-size="10.6" font-weight="bold" text-anchor="end" letter-spacing="0.55">50</text>
<line x1="278.00" y1="346.70" x2="284.00" y2="346.70" stroke="#000" stroke-width="1.5" stroke-linecap="butt"/>
<text x="276.7" y="351.09" font-family='"Liberation Sans", sans-serif' font-size="10.6" font-weight="bold" text-anchor="end" letter-spacing="0.55">100</text>
<line x1="278.00" y1="296.65" x2="284.00" y2="296.65" stroke="#000" stroke-width="1.5" stroke-linecap="butt"/>
<text x="276.7" y="301.04" font-family='"Liberation Sans", sans-serif' font-size="10.6" font-weight="bold" text-anchor="end" letter-spacing="0.55">150</text>
<line x1="283.25" y1="446.80" x2="434.00" y2="446.80" stroke="#000" stroke-width="1.5" stroke-linecap="butt"/>
<rect x="305.40" y="342.80" width="24.90" height="104.00" fill="#000" stroke="#000" stroke-width="1.6"/>
<line x1="312.35" y1="340.50" x2="323.35" y2="340.50" stroke="#000" stroke-width="1.2" stroke-linecap="butt"/>
<line x1="317.85" y1="340.50" x2="317.85" y2="342.00" stroke="#000" stroke-width="1.2" stroke-linecap="butt"/>
<rect x="346.10" y="334.20" width="24.90" height="112.60" fill="#A0A0A0" stroke="#000" stroke-width="1.6"/>
<line x1="353.05" y1="332.60" x2="364.05" y2="332.60" stroke="#000" stroke-width="1.2" stroke-linecap="butt"/>
<line x1="358.55" y1="332.60" x2="358.55" y2="333.40" stroke="#000" stroke-width="1.2" stroke-linecap="butt"/>
<rect x="387.00" y="334.50" width="24.90" height="112.30" fill="#7C7C7C" stroke="#000" stroke-width="1.6"/>
<line x1="393.95" y1="332.60" x2="404.95" y2="332.60" stroke="#000" stroke-width="1.2" stroke-linecap="butt"/>
<line x1="399.45" y1="332.60" x2="399.45" y2="333.70" stroke="#000" stroke-width="1.2" stroke-linecap="butt"/>
<line x1="317.70" y1="446.80" x2="317.70" y2="451.50" stroke="#000" stroke-width="1.5" stroke-linecap="butt"/>
<line x1="358.50" y1="446.80" x2="358.50" y2="451.50" stroke="#000" stroke-width="1.5" stroke-linecap="butt"/>
<line x1="399.30" y1="446.80" x2="399.30" y2="451.50" stroke="#000" stroke-width="1.5" stroke-linecap="butt"/>
<text x="357.6" y="335.6" font-family='"Liberation Sans", sans-serif' font-size="12.5" font-weight="normal" fill="#000" text-anchor="middle" >*</text>
<text x="398.4" y="335.2" font-family='"Liberation Sans", sans-serif' font-size="12.5" font-weight="normal" fill="#000" text-anchor="middle" >*</text>
<text x="354.5" y="308.9" font-family='"Liberation Serif", serif' font-size="15" font-weight="bold" fill="#000" text-anchor="middle" >ABA</text>
<text transform="translate(253.5,376) rotate(-90)" font-family='"Liberation Serif", serif' font-size="15.4" font-weight="bold" fill="#000" text-anchor="middle">ng/g(FW)</text>
<text transform="translate(327.4,463) scale(1,1.11) rotate(-45)" font-family='"Liberation Serif", serif' font-size="15" font-weight="bold" text-anchor="end">WT</text>
<text transform="translate(370.5,463.2) scale(1,1.11) rotate(-45)" font-family='"Liberation Serif", serif' font-size="15" font-weight="bold" text-anchor="end">cr-SlLCYe-4-8</text>
<text transform="translate(408.4,463.6) scale(1,1.11) rotate(-45)" font-family='"Liberation Serif", serif' font-size="15" font-weight="bold" text-anchor="end">cr-SlLCYe-17-7</text>
<text x="475" y="303.7" font-family='"Liberation Serif", serif' font-size="26" font-weight="bold" fill="#000" text-anchor="start" >F</text>
<line x1="516.70" y1="308.20" x2="516.70" y2="445.25" stroke="#000" stroke-width="1.5" stroke-linecap="butt"/>
<line x1="510.70" y1="444.50" x2="516.70" y2="444.50" stroke="#000" stroke-width="1.5" stroke-linecap="butt"/>
<text x="509.59999999999997" y="448.89" font-family='"Liberation Sans", sans-serif' font-size="10.6" font-weight="bold" text-anchor="end" letter-spacing="0.55">0</text>
<line x1="510.70" y1="417.35" x2="516.70" y2="417.35" stroke="#000" stroke-width="1.5" stroke-linecap="butt"/>
<text x="509.59999999999997" y="421.74" font-family='"Liberation Sans", sans-serif' font-size="10.6" font-weight="bold" text-anchor="end" letter-spacing="0.55">10</text>
<line x1="510.70" y1="390.20" x2="516.70" y2="390.20" stroke="#000" stroke-width="1.5" stroke-linecap="butt"/>
<text x="509.59999999999997" y="394.59" font-family='"Liberation Sans", sans-serif' font-size="10.6" font-weight="bold" text-anchor="end" letter-spacing="0.55">20</text>
<line x1="510.70" y1="363.05" x2="516.70" y2="363.05" stroke="#000" stroke-width="1.5" stroke-linecap="butt"/>
<text x="509.59999999999997" y="367.44" font-family='"Liberation Sans", sans-serif' font-size="10.6" font-weight="bold" text-anchor="end" letter-spacing="0.55">30</text>
<line x1="510.70" y1="335.90" x2="516.70" y2="335.90" stroke="#000" stroke-width="1.5" stroke-linecap="butt"/>
<text x="509.59999999999997" y="340.29" font-family='"Liberation Sans", sans-serif' font-size="10.6" font-weight="bold" text-anchor="end" letter-spacing="0.55">40</text>
<line x1="510.70" y1="308.75" x2="516.70" y2="308.75" stroke="#000" stroke-width="1.5" stroke-linecap="butt"/>
<text x="509.59999999999997" y="313.14" font-family='"Liberation Sans", sans-serif' font-size="10.6" font-weight="bold" text-anchor="end" letter-spacing="0.55">50</text>
<line x1="515.95" y1="444.50" x2="653.10" y2="444.50" stroke="#000" stroke-width="1.5" stroke-linecap="butt"/>
<rect x="531.50" y="330.20" width="24.90" height="114.30" fill="#000" stroke="#000" stroke-width="1.6"/>
<line x1="543.95" y1="325.90" x2="543.95" y2="329.40" stroke="#000" stroke-width="1.2" stroke-linecap="butt"/>
<line x1="538.45" y1="325.90" x2="549.45" y2="325.90" stroke="#000" stroke-width="1.2" stroke-linecap="butt"/>
<rect x="572.10" y="331.00" width="24.90" height="113.50" fill="#A0A0A4" stroke="#000" stroke-width="1.6"/>
<line x1="584.55" y1="324.50" x2="584.55" y2="330.20" stroke="#000" stroke-width="1.2" stroke-linecap="butt"/>
<line x1="579.05" y1="324.50" x2="590.05" y2="324.50" stroke="#000" stroke-width="1.2" stroke-linecap="butt"/>
<rect x="613.15" y="329.90" width="24.90" height="114.60" fill="#5E5E5E" stroke="#000" stroke-width="1.6"/>
<line x1="625.60" y1="324.50" x2="625.60" y2="329.10" stroke="#000" stroke-width="1.2" stroke-linecap="butt"/>
<line x1="620.10" y1="324.50" x2="631.10" y2="324.50" stroke="#000" stroke-width="1.2" stroke-linecap="butt"/>
<line x1="543.90" y1="444.50" x2="543.90" y2="449.50" stroke="#000" stroke-width="1.5" stroke-linecap="butt"/>
<line x1="584.40" y1="444.50" x2="584.40" y2="449.50" stroke="#000" stroke-width="1.5" stroke-linecap="butt"/>
<line x1="625.30" y1="444.50" x2="625.30" y2="449.50" stroke="#000" stroke-width="1.5" stroke-linecap="butt"/>
<text transform="translate(474.5,387.25) rotate(-90)" font-family='"Liberation Serif", serif' font-size="15.6" font-weight="bold" fill="#000" text-anchor="middle">Time from Anthesis to</text>
<text transform="translate(492.6,387.2) rotate(-90)" font-family='"Liberation Serif", serif' font-size="15.4" font-weight="bold" fill="#000" text-anchor="middle">Breaker(d)</text>
<text transform="translate(550.45,460.7) scale(1,1.11) rotate(-45)" font-family='"Liberation Serif", serif' font-size="15" font-weight="bold" text-anchor="end">WT</text>
<text transform="translate(594.25,461.55) scale(1,1.11) rotate(-45)" font-family='"Liberation Serif", serif' font-size="15" font-weight="bold" text-anchor="end">cr-SlLCYe-4-8</text>
<text transform="translate(634.6,460.85) scale(1,1.11) rotate(-45)" font-family='"Liberation Serif", serif' font-size="15" font-weight="bold" text-anchor="end">cr-SlLCYe-17-7</text>
<text x="609.5" y="50.3" font-family='"Liberation Serif", serif' font-size="26.5" font-weight="bold" fill="#000" text-anchor="start" >E</text>
<text x="724.5" y="49.6" font-family='"Liberation Serif", serif' font-size="18" font-weight="bold" fill="#000" text-anchor="middle" >36d</text>
<text x="792.2" y="49.6" font-family='"Liberation Serif", serif' font-size="18" font-weight="bold" fill="#000" text-anchor="middle" >40d</text>
<text x="859.7" y="49.6" font-family='"Liberation Serif", serif' font-size="18" font-weight="bold" fill="#000" text-anchor="middle" >43d</text>
<text x="927.3" y="49.6" font-family='"Liberation Serif", serif' font-size="18" font-weight="bold" fill="#000" text-anchor="middle" >47d</text>
<text x="995.3" y="49.6" font-family='"Liberation Serif", serif' font-size="18" font-weight="bold" fill="#000" text-anchor="middle" >50d</text>
<text x="1063.2" y="49.6" font-family='"Liberation Serif", serif' font-size="18" font-weight="bold" fill="#000" text-anchor="middle" >53d</text>
<text x="670.7" y="99.6" font-family='"Liberation Serif", serif' font-size="15.2" font-weight="bold" fill="#000" text-anchor="end" >WT</text>
<text x="670.7" y="162.1" font-family='"Liberation Serif", serif' font-size="15.2" font-weight="bold" fill="#000" text-anchor="end" >cr-SlLCYe-4-8</text>
<text x="670.7" y="226.6" font-family='"Liberation Serif", serif' font-size="15.2" font-weight="bold" fill="#000" text-anchor="end" >cr-SlLCYe-17-7</text>
<defs>
<filter id="bl" x="-50%" y="-50%" width="200%" height="200%"><feGaussianBlur stdDeviation="1.3"/></filter>
<filter id="bl2" x="-20%" y="-20%" width="140%" height="140%"><feGaussianBlur stdDeviation="0.6"/></filter>
<radialGradient id="g00" cx="0.46" cy="0.44" r="0.62" fx="0.40" fy="0.32"><stop offset="0" stop-color="#E2EDB0"/><stop offset="0.35" stop-color="#C9DB8E"/><stop offset="0.86" stop-color="#C9DB8E"/><stop offset="1" stop-color="#8FA85C"/></radialGradient>
<radialGradient id="g01" cx="0.46" cy="0.44" r="0.62" fx="0.40" fy="0.32"><stop offset="0" stop-color="#E0C466"/><stop offset="0.35" stop-color="#CEAE40"/><stop offset="0.86" stop-color="#CEAE40"/><stop offset="1" stop-color="#90701C"/></radialGradient>
<radialGradient id="g02" cx="0.46" cy="0.44" r="0.62" fx="0.40" fy="0.32"><stop offset="0" stop-color="#EC7A48"/><stop offset="0.35" stop-color="#D8561F"/><stop offset="0.86" stop-color="#D8561F"/><stop offset="1" stop-color="#8A2C0C"/></radialGradient>
<radialGradient id="g03" cx="0.46" cy="0.44" r="0.62" fx="0.40" fy="0.32"><stop offset="0" stop-color="#FF6A3A"/><stop offset="0.35" stop-color="#EE3E12"/><stop offset="0.86" stop-color="#EE3E12"/><stop offset="1" stop-color="#9A1E06"/></radialGradient>
<radialGradient id="g04" cx="0.46" cy="0.44" r="0.62" fx="0.40" fy="0.32"><stop offset="0" stop-color="#F46450"/><stop offset="0.35" stop-color="#D9321E"/><stop offset="0.86" stop-color="#D9321E"/><stop offset="1" stop-color="#861408"/></radialGradient>
<radialGradient id="g05" cx="0.46" cy="0.44" r="0.62" fx="0.40" fy="0.32"><stop offset="0" stop-color="#FF4030"/><stop offset="0.35" stop-color="#E21208"/><stop offset="0.86" stop-color="#E21208"/><stop offset="1" stop-color="#800604"/></radialGradient>
<radialGradient id="g10" cx="0.46" cy="0.44" r="0.62" fx="0.40" fy="0.32"><stop offset="0" stop-color="#DCE8AE"/><stop offset="0.35" stop-color="#C2D48C"/><stop offset="0.86" stop-color="#C2D48C"/><stop offset="1" stop-color="#849A56"/></radialGradient>
<radialGradient id="g11" cx="0.46" cy="0.44" r="0.62" fx="0.40" fy="0.32"><stop offset="0" stop-color="#F0DA6C"/><stop offset="0.35" stop-color="#DFC03A"/><stop offset="0.86" stop-color="#DFC03A"/><stop offset="1" stop-color="#9C8418"/></radialGradient>
<radialGradient id="g12" cx="0.46" cy="0.44" r="0.62" fx="0.40" fy="0.32"><stop offset="0" stop-color="#FF7A44"/><stop offset="0.35" stop-color="#EE4E18"/><stop offset="0.86" stop-color="#EE4E18"/><stop offset="1" stop-color="#A42C0A"/></radialGradient>
<radialGradient id="g13" cx="0.46" cy="0.44" r="0.62" fx="0.40" fy="0.32"><stop offset="0" stop-color="#FF7050"/><stop offset="0.35" stop-color="#E4441F"/><stop offset="0.86" stop-color="#E4441F"/><stop offset="1" stop-color="#9C260E"/></radialGradient>
<radialGradient id="g14" cx="0.46" cy="0.44" r="0.62" fx="0.40" fy="0.32"><stop offset="0" stop-color="#F06A54"/><stop offset="0.35" stop-color="#DA3A1E"/><stop offset="0.86" stop-color="#DA3A1E"/><stop offset="1" stop-color="#94200C"/></radialGradient>
<radialGradient id="g15" cx="0.46" cy="0.44" r="0.62" fx="0.40" fy="0.32"><stop offset="0" stop-color="#E66A50"/><stop offset="0.35" stop-color="#C93C26"/><stop offset="0.86" stop-color="#C93C26"/><stop offset="1" stop-color="#7E200E"/></radialGradient>
<radialGradient id="g20" cx="0.46" cy="0.44" r="0.62" fx="0.40" fy="0.32"><stop offset="0" stop-color="#EEF5CC"/><stop offset="0.35" stop-color="#DAE6AA"/><stop offset="0.86" stop-color="#DAE6AA"/><stop offset="1" stop-color="#9EAE70"/></radialGradient>
<radialGradient id="g21" cx="0.46" cy="0.44" r="0.62" fx="0.40" fy="0.32"><stop offset="0" stop-color="#E4DE88"/><stop offset="0.35" stop-color="#D0C650"/><stop offset="0.86" stop-color="#D0C650"/><stop offset="1" stop-color="#908624"/></radialGradient>
<radialGradient id="g22" cx="0.46" cy="0.44" r="0.62" fx="0.40" fy="0.32"><stop offset="0" stop-color="#FF9844"/><stop offset="0.35" stop-color="#EA6E18"/><stop offset="0.86" stop-color="#EA6E18"/><stop offset="1" stop-color="#A4420A"/></radialGradient>
<radialGradient id="g23" cx="0.46" cy="0.44" r="0.62" fx="0.40" fy="0.32"><stop offset="0" stop-color="#F46C50"/><stop offset="0.35" stop-color="#DE441E"/><stop offset="0.86" stop-color="#DE441E"/><stop offset="1" stop-color="#96240C"/></radialGradient>
<radialGradient id="g24" cx="0.46" cy="0.44" r="0.62" fx="0.40" fy="0.32"><stop offset="0" stop-color="#FA7252"/><stop offset="0.35" stop-color="#E2421E"/><stop offset="0.86" stop-color="#E2421E"/><stop offset="1" stop-color="#98220A"/></radialGradient>
<radialGradient id="g25" cx="0.46" cy="0.44" r="0.62" fx="0.40" fy="0.32"><stop offset="0" stop-color="#F07054"/><stop offset="0.35" stop-color="#D84220"/><stop offset="0.86" stop-color="#D84220"/><stop offset="1" stop-color="#901E0A"/></radialGradient>
<linearGradient id="shade" x1="0.2" y1="0.1" x2="0.8" y2="1"><stop offset="0.5" stop-color="#000" stop-opacity="0"/><stop offset="1" stop-color="#000" stop-opacity="0.28"/></linearGradient>
</defs>
<rect x="684.50" y="58.30" width="68.20" height="63.80" fill="#060606"/>
<clipPath id="cp00"><rect x="684.5" y="58.3" width="68.2" height="63.8"/></clipPath>
<g clip-path="url(#cp00)">
<path d="M719.7,63.4 C727.9,59.2 741.5,58.6 746.2,71.5 C749.8,81.1 748.0,92.9 740.9,102.5 C735.0,110.0 725.6,113.2 718.5,113.2 C710.2,113.2 699.6,108.9 693.7,100.9 C687.8,91.8 687.8,77.9 692.0,69.9 C696.1,61.3 710.2,59.2 719.7,63.4 Z" fill="url(#g00)" filter="url(#bl2)"/>
<path d="M719.7,63.4 C727.9,59.2 741.5,58.6 746.2,71.5 C749.8,81.1 748.0,92.9 740.9,102.5 C735.0,110.0 725.6,113.2 718.5,113.2 C710.2,113.2 699.6,108.9 693.7,100.9 C687.8,91.8 687.8,77.9 692.0,69.9 C696.1,61.3 710.2,59.2 719.7,63.4 Z" fill="url(#shade)"/>
<ellipse cx="712.6" cy="74.7" rx="3.5" ry="2.5" fill="#fff" opacity="0.55" filter="url(#bl)"/>
<ellipse cx="725.6" cy="73.1" rx="2.5" ry="2" fill="#fff" opacity="0.35" filter="url(#bl)"/>
<ellipse cx="706.7" cy="83.8" rx="2" ry="1.6" fill="#fff" opacity="0.25" filter="url(#bl)"/>
<path d="M710.7,58.3 Q719.7,65.7 725.7,65.2 Q732.7,64.7 738.7,58.3 Z" fill="#5A8A3E"/>
<path d="M715.7,59.3 Q722.7,63.7 730.7,59.3" stroke="#86B064" stroke-width="1.2" fill="none" opacity="0.7"/>
</g>
<rect x="754.00" y="58.30" width="67.80" height="63.80" fill="#060606"/>
<clipPath id="cp01"><rect x="754.0" y="58.3" width="67.8" height="63.8"/></clipPath>
<g clip-path="url(#cp01)">
<path d="M789.1,64.3 C797.6,59.8 811.6,59.3 816.5,72.7 C820.1,82.8 818.3,95.1 811.0,105.1 C804.9,112.9 795.2,116.3 787.8,116.3 C779.3,116.3 768.4,111.8 762.3,103.4 C756.2,93.9 756.2,79.4 760.4,71.0 C764.7,62.1 779.3,59.8 789.1,64.3 Z" fill="url(#g01)" filter="url(#bl2)"/>
<path d="M789.1,64.3 C797.6,59.8 811.6,59.3 816.5,72.7 C820.1,82.8 818.3,95.1 811.0,105.1 C804.9,112.9 795.2,116.3 787.8,116.3 C779.3,116.3 768.4,111.8 762.3,103.4 C756.2,93.9 756.2,79.4 760.4,71.0 C764.7,62.1 779.3,59.8 789.1,64.3 Z" fill="url(#shade)"/>
<ellipse cx="781.8" cy="76.1" rx="3.5" ry="2.5" fill="#fff" opacity="0.55" filter="url(#bl)"/>
<ellipse cx="795.2" cy="74.4" rx="2.5" ry="2" fill="#fff" opacity="0.35" filter="url(#bl)"/>
<ellipse cx="775.7" cy="85.6" rx="2" ry="1.6" fill="#fff" opacity="0.25" filter="url(#bl)"/>
<path d="M778.1,58.3 Q787.1,66.4 793.1,65.9 Q800.1,65.4 806.1,58.3 Z" fill="#5A8A3E"/>
<path d="M783.1,59.3 Q790.1,64.4 798.1,59.3" stroke="#86B064" stroke-width="1.2" fill="none" opacity="0.7"/>
</g>
<rect x="823.60" y="58.30" width="68.00" height="63.80" fill="#060606"/>
<clipPath id="cp02"><rect x="823.6" y="58.3" width="68.0" height="63.8"/></clipPath>
<g clip-path="url(#cp02)">
<path d="M858.4,64.2 C867.0,59.9 881.1,59.3 886.1,72.3 C889.7,82.0 887.9,93.9 880.5,103.7 C874.4,111.3 864.5,114.5 857.1,114.5 C848.5,114.5 837.5,110.2 831.3,102.1 C825.2,92.9 825.2,78.8 829.5,70.7 C833.8,62.0 848.5,59.9 858.4,64.2 Z" fill="url(#g02)" filter="url(#bl2)"/>
<path d="M858.4,64.2 C867.0,59.9 881.1,59.3 886.1,72.3 C889.7,82.0 887.9,93.9 880.5,103.7 C874.4,111.3 864.5,114.5 857.1,114.5 C848.5,114.5 837.5,110.2 831.3,102.1 C825.2,92.9 825.2,78.8 829.5,70.7 C833.8,62.0 848.5,59.9 858.4,64.2 Z" fill="url(#shade)"/>
<ellipse cx="851.0" cy="75.5" rx="3.5" ry="2.5" fill="#fff" opacity="0.55" filter="url(#bl)"/>
<ellipse cx="864.5" cy="73.9" rx="2.5" ry="2" fill="#fff" opacity="0.35" filter="url(#bl)"/>
<ellipse cx="844.9" cy="84.7" rx="2" ry="1.6" fill="#fff" opacity="0.25" filter="url(#bl)"/>
<path d="M844.4,58.3 Q853.4,66.4 859.4,65.9 Q866.4,65.4 872.4,58.3 Z" fill="#5A8A3E"/>
<path d="M849.4,59.3 Q856.4,64.4 864.4,59.3" stroke="#86B064" stroke-width="1.2" fill="none" opacity="0.7"/>
</g>
<rect x="892.90" y="58.30" width="68.10" height="63.80" fill="#060606"/>
<clipPath id="cp03"><rect x="892.9" y="58.3" width="68.1" height="63.8"/></clipPath>
<g clip-path="url(#cp03)">
<path d="M928.0,65.3 C936.7,61.1 950.8,60.5 955.8,73.2 C959.4,82.8 957.6,94.4 950.2,103.9 C944.0,111.3 934.2,114.5 926.8,114.5 C918.2,114.5 907.1,110.3 900.9,102.3 C894.8,93.3 894.8,79.6 899.1,71.7 C903.4,63.2 918.2,61.1 928.0,65.3 Z" fill="url(#g03)" filter="url(#bl2)"/>
<path d="M928.0,65.3 C936.7,61.1 950.8,60.5 955.8,73.2 C959.4,82.8 957.6,94.4 950.2,103.9 C944.0,111.3 934.2,114.5 926.8,114.5 C918.2,114.5 907.1,110.3 900.9,102.3 C894.8,93.3 894.8,79.6 899.1,71.7 C903.4,63.2 918.2,61.1 928.0,65.3 Z" fill="url(#shade)"/>
<ellipse cx="920.6" cy="76.4" rx="3.5" ry="2.5" fill="#fff" opacity="0.55" filter="url(#bl)"/>
<ellipse cx="934.2" cy="74.8" rx="2.5" ry="2" fill="#fff" opacity="0.35" filter="url(#bl)"/>
<ellipse cx="914.5" cy="85.4" rx="2" ry="1.6" fill="#fff" opacity="0.25" filter="url(#bl)"/>
<path d="M914.0,58.3 Q923.0,67.6 929.0,67.1 Q936.0,66.6 942.0,58.3 Z" fill="#5A8A3E"/>
<path d="M919.0,59.3 Q926.0,65.6 934.0,59.3" stroke="#86B064" stroke-width="1.2" fill="none" opacity="0.7"/>
</g>
<rect x="962.80" y="58.30" width="68.00" height="63.80" fill="#060606"/>
<clipPath id="cp04"><rect x="962.8" y="58.3" width="68.0" height="63.8"/></clipPath>
<g clip-path="url(#cp04)">
<path d="M998.0,64.7 C1006.4,60.5 1020.2,59.9 1025.0,72.7 C1028.6,82.2 1026.8,93.9 1019.6,103.4 C1013.6,110.8 1004.0,114.0 996.8,114.0 C988.5,114.0 977.7,109.8 971.7,101.8 C965.7,92.8 965.7,79.0 969.9,71.1 C974.1,62.6 988.5,60.5 998.0,64.7 Z" fill="url(#g04)" filter="url(#bl2)"/>
<path d="M998.0,64.7 C1006.4,60.5 1020.2,59.9 1025.0,72.7 C1028.6,82.2 1026.8,93.9 1019.6,103.4 C1013.6,110.8 1004.0,114.0 996.8,114.0 C988.5,114.0 977.7,109.8 971.7,101.8 C965.7,92.8 965.7,79.0 969.9,71.1 C974.1,62.6 988.5,60.5 998.0,64.7 Z" fill="url(#shade)"/>
<ellipse cx="990.9" cy="75.8" rx="3.5" ry="2.5" fill="#fff" opacity="0.55" filter="url(#bl)"/>
<ellipse cx="1004.0" cy="74.2" rx="2.5" ry="2" fill="#fff" opacity="0.35" filter="url(#bl)"/>
<ellipse cx="984.9" cy="84.8" rx="2" ry="1.6" fill="#fff" opacity="0.25" filter="url(#bl)"/>
<path d="M983.0,58.3 Q992.0,67.0 998.0,66.5 Q1005.0,66.0 1011.0,58.3 Z" fill="#5A8A3E"/>
<path d="M988.0,59.3 Q995.0,65.0 1003.0,59.3" stroke="#86B064" stroke-width="1.2" fill="none" opacity="0.7"/>
</g>
<rect x="1032.10" y="58.30" width="68.00" height="63.80" fill="#060606"/>
<clipPath id="cp05"><rect x="1032.1" y="58.3" width="68.0" height="63.8"/></clipPath>
<g clip-path="url(#cp05)">
<path d="M1067.1,63.7 C1075.8,59.2 1090.0,58.7 1094.9,72.0 C1098.7,82.0 1096.8,94.2 1089.4,104.2 C1077.0,112.0 1067.1,115.3 1065.9,115.3 C1063.4,115.3 1049.2,110.9 1039.9,102.5 C1033.8,93.1 1033.8,78.7 1038.1,70.3 C1042.4,61.5 1057.2,59.2 1067.1,63.7 Z" fill="url(#g05)" filter="url(#bl2)"/>
<path d="M1067.1,63.7 C1075.8,59.2 1090.0,58.7 1094.9,72.0 C1098.7,82.0 1096.8,94.2 1089.4,104.2 C1077.0,112.0 1067.1,115.3 1065.9,115.3 C1063.4,115.3 1049.2,110.9 1039.9,102.5 C1033.8,93.1 1033.8,78.7 1038.1,70.3 C1042.4,61.5 1057.2,59.2 1067.1,63.7 Z" fill="url(#shade)"/>
<ellipse cx="1059.7" cy="75.3" rx="3.5" ry="2.5" fill="#fff" opacity="0.55" filter="url(#bl)"/>
<ellipse cx="1073.3" cy="73.7" rx="2.5" ry="2" fill="#fff" opacity="0.35" filter="url(#bl)"/>
<ellipse cx="1053.5" cy="84.8" rx="2" ry="1.6" fill="#fff" opacity="0.25" filter="url(#bl)"/>
<path d="M1059.1,58.3 Q1068.1,65.8 1074.1,65.3 Q1081.1,64.8 1087.1,58.3 Z" fill="#5A8A3E"/>
<path d="M1064.1,59.3 Q1071.1,63.8 1079.1,59.3" stroke="#86B064" stroke-width="1.2" fill="none" opacity="0.7"/>
</g>
<rect x="684.50" y="124.60" width="68.20" height="63.80" fill="#060606"/>
<clipPath id="cp10"><rect x="684.5" y="124.6" width="68.2" height="63.8"/></clipPath>
<g clip-path="url(#cp10)">
<path d="M719.7,131.5 C727.9,127.0 741.5,126.5 746.2,139.8 C749.8,149.8 748.0,161.9 740.9,171.9 C735.0,179.7 725.6,183.0 718.5,183.0 C710.2,183.0 699.6,178.6 693.7,170.3 C687.8,160.8 687.8,146.4 692.0,138.1 C696.1,129.3 710.2,127.0 719.7,131.5 Z" fill="url(#g10)" filter="url(#bl2)"/>
<path d="M719.7,131.5 C727.9,127.0 741.5,126.5 746.2,139.8 C749.8,149.8 748.0,161.9 740.9,171.9 C735.0,179.7 725.6,183.0 718.5,183.0 C710.2,183.0 699.6,178.6 693.7,170.3 C687.8,160.8 687.8,146.4 692.0,138.1 C696.1,129.3 710.2,127.0 719.7,131.5 Z" fill="url(#shade)"/>
<ellipse cx="712.6" cy="143.1" rx="3.5" ry="2.5" fill="#fff" opacity="0.55" filter="url(#bl)"/>
<ellipse cx="725.6" cy="141.4" rx="2.5" ry="2" fill="#fff" opacity="0.35" filter="url(#bl)"/>
<ellipse cx="706.7" cy="152.5" rx="2" ry="1.6" fill="#fff" opacity="0.25" filter="url(#bl)"/>
<path d="M691.7,123.6 Q701.7,135.6 711.7,131.6" stroke="#5C9A38" stroke-width="3" fill="none" stroke-linecap="round"/>
<path d="M703.7,122.6 Q707.7,135.6 711.7,131.6" stroke="#5C9A38" stroke-width="3" fill="none" stroke-linecap="round"/>
<path d="M717.7,122.6 Q714.7,135.6 711.7,131.6" stroke="#5C9A38" stroke-width="3" fill="none" stroke-linecap="round"/>
<path d="M729.7,124.6 Q720.7,135.6 711.7,131.6" stroke="#5C9A38" stroke-width="3" fill="none" stroke-linecap="round"/>
<ellipse cx="711.7" cy="129.6" rx="5" ry="4" fill="#4E8A30"/>
</g>
<rect x="754.00" y="124.60" width="67.80" height="63.80" fill="#060606"/>
<clipPath id="cp11"><rect x="754.0" y="124.6" width="67.8" height="63.8"/></clipPath>
<g clip-path="url(#cp11)">
<path d="M789.5,135.9 C798.2,131.4 812.7,130.9 817.7,144.2 C821.5,154.1 819.6,166.3 812.1,176.2 C805.8,184.0 795.7,187.3 788.2,187.3 C779.4,187.3 768.1,182.9 761.8,174.6 C755.5,165.2 755.5,150.8 759.9,142.5 C764.3,133.7 779.4,131.4 789.5,135.9 Z" fill="url(#g11)" filter="url(#bl2)"/>
<path d="M789.5,135.9 C798.2,131.4 812.7,130.9 817.7,144.2 C821.5,154.1 819.6,166.3 812.1,176.2 C805.8,184.0 795.7,187.3 788.2,187.3 C779.4,187.3 768.1,182.9 761.8,174.6 C755.5,165.2 755.5,150.8 759.9,142.5 C764.3,133.7 779.4,131.4 789.5,135.9 Z" fill="url(#shade)"/>
<ellipse cx="781.9" cy="147.5" rx="3.5" ry="2.5" fill="#fff" opacity="0.55" filter="url(#bl)"/>
<ellipse cx="795.7" cy="145.8" rx="2.5" ry="2" fill="#fff" opacity="0.35" filter="url(#bl)"/>
<ellipse cx="775.6" cy="156.9" rx="2" ry="1.6" fill="#fff" opacity="0.25" filter="url(#bl)"/>
<path d="M767.5,123.6 Q777.5,140.0 787.5,136.0" stroke="#5C9A38" stroke-width="3" fill="none" stroke-linecap="round"/>
<path d="M779.5,122.6 Q783.5,140.0 787.5,136.0" stroke="#5C9A38" stroke-width="3" fill="none" stroke-linecap="round"/>
<path d="M793.5,122.6 Q790.5,140.0 787.5,136.0" stroke="#5C9A38" stroke-width="3" fill="none" stroke-linecap="round"/>
<path d="M805.5,124.6 Q796.5,140.0 787.5,136.0" stroke="#5C9A38" stroke-width="3" fill="none" stroke-linecap="round"/>
<ellipse cx="787.5" cy="134.0" rx="5" ry="4" fill="#4E8A30"/>
</g>
<rect x="823.60" y="124.60" width="68.00" height="63.80" fill="#060606"/>
<clipPath id="cp12"><rect x="823.6" y="124.6" width="68.0" height="63.8"/></clipPath>
<g clip-path="url(#cp12)">
<path d="M858.4,134.5 C867.1,130.2 881.6,129.6 886.6,142.7 C890.4,152.6 888.5,164.6 881.0,174.5 C874.7,182.1 864.6,185.4 857.1,185.4 C848.3,185.4 837.0,181.0 830.7,172.8 C824.4,163.5 824.4,149.3 828.8,141.1 C833.2,132.3 848.3,130.2 858.4,134.5 Z" fill="url(#g12)" filter="url(#bl2)"/>
<path d="M858.4,134.5 C867.1,130.2 881.6,129.6 886.6,142.7 C890.4,152.6 888.5,164.6 881.0,174.5 C874.7,182.1 864.6,185.4 857.1,185.4 C848.3,185.4 837.0,181.0 830.7,172.8 C824.4,163.5 824.4,149.3 828.8,141.1 C833.2,132.3 848.3,130.2 858.4,134.5 Z" fill="url(#shade)"/>
<ellipse cx="850.8" cy="146.0" rx="3.5" ry="2.5" fill="#fff" opacity="0.55" filter="url(#bl)"/>
<ellipse cx="864.6" cy="144.4" rx="2.5" ry="2" fill="#fff" opacity="0.35" filter="url(#bl)"/>
<ellipse cx="844.5" cy="155.3" rx="2" ry="1.6" fill="#fff" opacity="0.25" filter="url(#bl)"/>
<path d="M834.4,123.6 Q844.4,138.7 854.4,134.7" stroke="#5C9A38" stroke-width="3" fill="none" stroke-linecap="round"/>
<path d="M846.4,122.6 Q850.4,138.7 854.4,134.7" stroke="#5C9A38" stroke-width="3" fill="none" stroke-linecap="round"/>
<path d="M860.4,122.6 Q857.4,138.7 854.4,134.7" stroke="#5C9A38" stroke-width="3" fill="none" stroke-linecap="round"/>
<path d="M872.4,124.6 Q863.4,138.7 854.4,134.7" stroke="#5C9A38" stroke-width="3" fill="none" stroke-linecap="round"/>
<ellipse cx="854.4" cy="132.7" rx="5" ry="4" fill="#4E8A30"/>
</g>
<rect x="892.90" y="124.60" width="68.10" height="63.80" fill="#060606"/>
<clipPath id="cp13"><rect x="892.9" y="124.6" width="68.1" height="63.8"/></clipPath>
<g clip-path="url(#cp13)">
<path d="M928.6,135.2 C936.9,130.7 950.5,130.2 955.2,143.6 C958.8,153.7 957.0,166.0 949.9,176.1 C944.0,183.9 934.5,187.3 927.5,187.3 C919.2,187.3 908.5,182.8 902.6,174.4 C896.7,164.9 896.7,150.3 900.9,141.9 C905.0,133.0 919.2,130.7 928.6,135.2 Z" fill="url(#g13)" filter="url(#bl2)"/>
<path d="M928.6,135.2 C936.9,130.7 950.5,130.2 955.2,143.6 C958.8,153.7 957.0,166.0 949.9,176.1 C944.0,183.9 934.5,187.3 927.5,187.3 C919.2,187.3 908.5,182.8 902.6,174.4 C896.7,164.9 896.7,150.3 900.9,141.9 C905.0,133.0 919.2,130.7 928.6,135.2 Z" fill="url(#shade)"/>
<ellipse cx="921.5" cy="147.0" rx="3.5" ry="2.5" fill="#fff" opacity="0.55" filter="url(#bl)"/>
<ellipse cx="934.5" cy="145.3" rx="2.5" ry="2" fill="#fff" opacity="0.35" filter="url(#bl)"/>
<ellipse cx="915.6" cy="156.5" rx="2" ry="1.6" fill="#fff" opacity="0.25" filter="url(#bl)"/>
<path d="M910.6,123.6 Q920.6,139.3 930.6,135.3" stroke="#5C9A38" stroke-width="3" fill="none" stroke-linecap="round"/>
<path d="M922.6,122.6 Q926.6,139.3 930.6,135.3" stroke="#5C9A38" stroke-width="3" fill="none" stroke-linecap="round"/>
<path d="M936.6,122.6 Q933.6,139.3 930.6,135.3" stroke="#5C9A38" stroke-width="3" fill="none" stroke-linecap="round"/>
<path d="M948.6,124.6 Q939.6,139.3 930.6,135.3" stroke="#5C9A38" stroke-width="3" fill="none" stroke-linecap="round"/>
<ellipse cx="930.6" cy="133.3" rx="5" ry="4" fill="#4E8A30"/>
</g>
<rect x="962.80" y="124.60" width="68.00" height="63.80" fill="#060606"/>
<clipPath id="cp14"><rect x="962.8" y="124.6" width="68.0" height="63.8"/></clipPath>
<g clip-path="url(#cp14)">
<path d="M998.6,134.6 C1007.4,130.3 1021.8,129.7 1026.8,142.9 C1030.6,152.8 1028.7,164.8 1021.2,174.7 C1014.9,182.4 1004.9,185.7 997.4,185.7 C988.6,185.7 977.3,181.3 971.0,173.1 C964.7,163.7 964.7,149.5 969.1,141.2 C973.5,132.4 988.6,130.3 998.6,134.6 Z" fill="url(#g14)" filter="url(#bl2)"/>
<path d="M998.6,134.6 C1007.4,130.3 1021.8,129.7 1026.8,142.9 C1030.6,152.8 1028.7,164.8 1021.2,174.7 C1014.9,182.4 1004.9,185.7 997.4,185.7 C988.6,185.7 977.3,181.3 971.0,173.1 C964.7,163.7 964.7,149.5 969.1,141.2 C973.5,132.4 988.6,130.3 998.6,134.6 Z" fill="url(#shade)"/>
<ellipse cx="991.1" cy="146.2" rx="3.5" ry="2.5" fill="#fff" opacity="0.55" filter="url(#bl)"/>
<ellipse cx="1004.9" cy="144.5" rx="2.5" ry="2" fill="#fff" opacity="0.35" filter="url(#bl)"/>
<ellipse cx="984.8" cy="155.5" rx="2" ry="1.6" fill="#fff" opacity="0.25" filter="url(#bl)"/>
<path d="M978.6,123.6 Q988.6,138.8 998.6,134.8" stroke="#5C9A38" stroke-width="3" fill="none" stroke-linecap="round"/>
<path d="M990.6,122.6 Q994.6,138.8 998.6,134.8" stroke="#5C9A38" stroke-width="3" fill="none" stroke-linecap="round"/>
<path d="M1004.6,122.6 Q1001.6,138.8 998.6,134.8" stroke="#5C9A38" stroke-width="3" fill="none" stroke-linecap="round"/>
<path d="M1016.6,124.6 Q1007.6,138.8 998.6,134.8" stroke="#5C9A38" stroke-width="3" fill="none" stroke-linecap="round"/>
<ellipse cx="998.6" cy="132.8" rx="5" ry="4" fill="#4E8A30"/>
</g>
<rect x="1032.10" y="124.60" width="68.00" height="63.80" fill="#060606"/>
<clipPath id="cp15"><rect x="1032.1" y="124.6" width="68.0" height="63.8"/></clipPath>
<g clip-path="url(#cp15)">
<path d="M1067.2,133.2 C1075.6,129.1 1089.5,128.6 1094.4,141.0 C1098.0,150.3 1096.2,161.7 1088.9,171.0 C1082.9,178.2 1073.2,181.3 1066.0,181.3 C1057.5,181.3 1046.6,177.2 1040.5,169.4 C1034.5,160.6 1034.5,147.2 1038.7,139.4 C1043.0,131.2 1057.5,129.1 1067.2,133.2 Z" fill="url(#g15)" filter="url(#bl2)"/>
<path d="M1067.2,133.2 C1075.6,129.1 1089.5,128.6 1094.4,141.0 C1098.0,150.3 1096.2,161.7 1088.9,171.0 C1082.9,178.2 1073.2,181.3 1066.0,181.3 C1057.5,181.3 1046.6,177.2 1040.5,169.4 C1034.5,160.6 1034.5,147.2 1038.7,139.4 C1043.0,131.2 1057.5,129.1 1067.2,133.2 Z" fill="url(#shade)"/>
<ellipse cx="1059.9" cy="144.1" rx="3.5" ry="2.5" fill="#fff" opacity="0.55" filter="url(#bl)"/>
<ellipse cx="1073.2" cy="142.5" rx="2.5" ry="2" fill="#fff" opacity="0.35" filter="url(#bl)"/>
<ellipse cx="1053.9" cy="152.9" rx="2" ry="1.6" fill="#fff" opacity="0.25" filter="url(#bl)"/>
<path d="M1049.2,123.6 Q1059.2,137.6 1069.2,133.6" stroke="#5C9A38" stroke-width="3" fill="none" stroke-linecap="round"/>
<path d="M1061.2,122.6 Q1065.2,137.6 1069.2,133.6" stroke="#5C9A38" stroke-width="3" fill="none" stroke-linecap="round"/>
<path d="M1075.2,122.6 Q1072.2,137.6 1069.2,133.6" stroke="#5C9A38" stroke-width="3" fill="none" stroke-linecap="round"/>
<path d="M1087.2,124.6 Q1078.2,137.6 1069.2,133.6" stroke="#5C9A38" stroke-width="3" fill="none" stroke-linecap="round"/>
<ellipse cx="1069.2" cy="131.6" rx="5" ry="4" fill="#4E8A30"/>
</g>
<rect x="684.50" y="190.50" width="68.20" height="60.40" fill="#060606"/>
<clipPath id="cp20"><rect x="684.5" y="190.5" width="68.2" height="60.4"/></clipPath>
<g clip-path="url(#cp20)">
<path d="M720.9,197.3 C729.2,193.0 742.8,192.4 747.5,205.4 C751.1,215.1 749.3,227.0 742.2,236.8 C736.3,244.4 726.8,247.6 719.8,247.6 C711.5,247.6 700.8,243.3 694.9,235.2 C689.0,226.0 689.0,211.9 693.2,203.8 C697.3,195.1 711.5,193.0 720.9,197.3 Z" fill="url(#g20)" filter="url(#bl2)"/>
<path d="M720.9,197.3 C729.2,193.0 742.8,192.4 747.5,205.4 C751.1,215.1 749.3,227.0 742.2,236.8 C736.3,244.4 726.8,247.6 719.8,247.6 C711.5,247.6 700.8,243.3 694.9,235.2 C689.0,226.0 689.0,211.9 693.2,203.8 C697.3,195.1 711.5,193.0 720.9,197.3 Z" fill="url(#shade)"/>
<ellipse cx="713.8" cy="208.6" rx="3.5" ry="2.5" fill="#fff" opacity="0.55" filter="url(#bl)"/>
<ellipse cx="726.8" cy="207.0" rx="2.5" ry="2" fill="#fff" opacity="0.35" filter="url(#bl)"/>
<ellipse cx="707.9" cy="217.8" rx="2" ry="1.6" fill="#fff" opacity="0.25" filter="url(#bl)"/>
<path d="M692.9,189.5 Q702.9,201.5 712.9,197.5" stroke="#5C9A38" stroke-width="3" fill="none" stroke-linecap="round"/>
<path d="M704.9,188.5 Q708.9,201.5 712.9,197.5" stroke="#5C9A38" stroke-width="3" fill="none" stroke-linecap="round"/>
<path d="M718.9,188.5 Q715.9,201.5 712.9,197.5" stroke="#5C9A38" stroke-width="3" fill="none" stroke-linecap="round"/>
<path d="M730.9,190.5 Q721.9,201.5 712.9,197.5" stroke="#5C9A38" stroke-width="3" fill="none" stroke-linecap="round"/>
<ellipse cx="712.9" cy="195.5" rx="5" ry="4" fill="#4E8A30"/>
</g>
<rect x="754.00" y="190.50" width="67.80" height="60.40" fill="#060606"/>
<clipPath id="cp21"><rect x="754.0" y="190.5" width="67.8" height="60.4"/></clipPath>
<g clip-path="url(#cp21)">
<path d="M787.8,197.3 C795.9,193.0 809.4,192.4 814.0,205.5 C817.6,215.4 815.8,227.4 808.8,237.3 C803.0,244.9 793.6,248.2 786.6,248.2 C778.4,248.2 767.9,243.8 762.1,235.6 C756.2,226.3 756.2,212.1 760.3,203.9 C764.4,195.1 778.4,193.0 787.8,197.3 Z" fill="url(#g21)" filter="url(#bl2)"/>
<path d="M787.8,197.3 C795.9,193.0 809.4,192.4 814.0,205.5 C817.6,215.4 815.8,227.4 808.8,237.3 C803.0,244.9 793.6,248.2 786.6,248.2 C778.4,248.2 767.9,243.8 762.1,235.6 C756.2,226.3 756.2,212.1 760.3,203.9 C764.4,195.1 778.4,193.0 787.8,197.3 Z" fill="url(#shade)"/>
<ellipse cx="780.8" cy="208.8" rx="3.5" ry="2.5" fill="#fff" opacity="0.55" filter="url(#bl)"/>
<ellipse cx="793.6" cy="207.2" rx="2.5" ry="2" fill="#fff" opacity="0.35" filter="url(#bl)"/>
<ellipse cx="774.9" cy="218.1" rx="2" ry="1.6" fill="#fff" opacity="0.25" filter="url(#bl)"/>
<path d="M767.8,189.5 Q777.8,201.5 787.8,197.5" stroke="#5C9A38" stroke-width="3" fill="none" stroke-linecap="round"/>
<path d="M779.8,188.5 Q783.8,201.5 787.8,197.5" stroke="#5C9A38" stroke-width="3" fill="none" stroke-linecap="round"/>
<path d="M793.8,188.5 Q790.8,201.5 787.8,197.5" stroke="#5C9A38" stroke-width="3" fill="none" stroke-linecap="round"/>
<path d="M805.8,190.5 Q796.8,201.5 787.8,197.5" stroke="#5C9A38" stroke-width="3" fill="none" stroke-linecap="round"/>
<ellipse cx="787.8" cy="195.5" rx="5" ry="4" fill="#4E8A30"/>
</g>
<rect x="823.60" y="190.50" width="68.00" height="60.40" fill="#060606"/>
<clipPath id="cp22"><rect x="823.6" y="190.5" width="68.0" height="60.4"/></clipPath>
<g clip-path="url(#cp22)">
<path d="M858.5,198.4 C866.2,194.2 878.8,193.6 883.2,206.5 C886.4,216.1 884.8,227.9 878.2,237.5 C872.7,245.0 864.0,248.2 857.4,248.2 C849.7,248.2 839.9,243.9 834.4,235.9 C828.9,226.8 828.9,212.9 832.7,204.9 C836.6,196.3 849.7,194.2 858.5,198.4 Z" fill="url(#g22)" filter="url(#bl2)"/>
<path d="M858.5,198.4 C866.2,194.2 878.8,193.6 883.2,206.5 C886.4,216.1 884.8,227.9 878.2,237.5 C872.7,245.0 864.0,248.2 857.4,248.2 C849.7,248.2 839.9,243.9 834.4,235.9 C828.9,226.8 828.9,212.9 832.7,204.9 C836.6,196.3 849.7,194.2 858.5,198.4 Z" fill="url(#shade)"/>
<ellipse cx="851.9" cy="209.7" rx="3.5" ry="2.5" fill="#fff" opacity="0.55" filter="url(#bl)"/>
<ellipse cx="864.0" cy="208.1" rx="2.5" ry="2" fill="#fff" opacity="0.35" filter="url(#bl)"/>
<ellipse cx="846.4" cy="218.8" rx="2" ry="1.6" fill="#fff" opacity="0.25" filter="url(#bl)"/>
<path d="M832.5,189.5 Q842.5,202.7 852.5,198.7" stroke="#5C9A38" stroke-width="3" fill="none" stroke-linecap="round"/>
<path d="M844.5,188.5 Q848.5,202.7 852.5,198.7" stroke="#5C9A38" stroke-width="3" fill="none" stroke-linecap="round"/>
<path d="M858.5,188.5 Q855.5,202.7 852.5,198.7" stroke="#5C9A38" stroke-width="3" fill="none" stroke-linecap="round"/>
<path d="M870.5,190.5 Q861.5,202.7 852.5,198.7" stroke="#5C9A38" stroke-width="3" fill="none" stroke-linecap="round"/>
<ellipse cx="852.5" cy="196.7" rx="5" ry="4" fill="#4E8A30"/>
</g>
<rect x="892.90" y="190.50" width="68.10" height="60.40" fill="#060606"/>
<clipPath id="cp23"><rect x="892.9" y="190.5" width="68.1" height="60.4"/></clipPath>
<g clip-path="url(#cp23)">
<path d="M928.9,200.3 C937.1,196.1 950.6,195.6 955.2,208.1 C958.8,217.5 957.0,229.0 950.0,238.4 C944.1,245.7 934.8,248.8 927.8,248.8 C919.6,248.8 909.0,244.6 903.2,236.8 C897.3,227.9 897.3,214.3 901.4,206.5 C905.5,198.2 919.6,196.1 928.9,200.3 Z" fill="url(#g23)" filter="url(#bl2)"/>
<path d="M928.9,200.3 C937.1,196.1 950.6,195.6 955.2,208.1 C958.8,217.5 957.0,229.0 950.0,238.4 C944.1,245.7 934.8,248.8 927.8,248.8 C919.6,248.8 909.0,244.6 903.2,236.8 C897.3,227.9 897.3,214.3 901.4,206.5 C905.5,198.2 919.6,196.1 928.9,200.3 Z" fill="url(#shade)"/>
<ellipse cx="921.9" cy="211.2" rx="3.5" ry="2.5" fill="#fff" opacity="0.55" filter="url(#bl)"/>
<ellipse cx="934.8" cy="209.7" rx="2.5" ry="2" fill="#fff" opacity="0.35" filter="url(#bl)"/>
<ellipse cx="916.0" cy="220.1" rx="2" ry="1.6" fill="#fff" opacity="0.25" filter="url(#bl)"/>
<path d="M906.9,189.5 Q916.9,204.6 926.9,200.6" stroke="#5C9A38" stroke-width="3" fill="none" stroke-linecap="round"/>
<path d="M918.9,188.5 Q922.9,204.6 926.9,200.6" stroke="#5C9A38" stroke-width="3" fill="none" stroke-linecap="round"/>
<path d="M932.9,188.5 Q929.9,204.6 926.9,200.6" stroke="#5C9A38" stroke-width="3" fill="none" stroke-linecap="round"/>
<path d="M944.9,190.5 Q935.9,204.6 926.9,200.6" stroke="#5C9A38" stroke-width="3" fill="none" stroke-linecap="round"/>
<ellipse cx="926.9" cy="198.6" rx="5" ry="4" fill="#4E8A30"/>
</g>
<rect x="962.80" y="190.50" width="68.00" height="60.40" fill="#060606"/>
<clipPath id="cp24"><rect x="962.8" y="190.5" width="68.0" height="60.4"/></clipPath>
<g clip-path="url(#cp24)">
<path d="M997.4,198.0 C1005.8,193.7 1019.6,193.1 1024.4,206.0 C1028.0,215.6 1026.2,227.4 1019.0,237.1 C1013.0,244.6 1003.4,247.8 996.2,247.8 C987.9,247.8 977.1,243.5 971.1,235.5 C965.1,226.4 965.1,212.4 969.3,204.4 C973.5,195.8 987.9,193.7 997.4,198.0 Z" fill="url(#g24)" filter="url(#bl2)"/>
<path d="M997.4,198.0 C1005.8,193.7 1019.6,193.1 1024.4,206.0 C1028.0,215.6 1026.2,227.4 1019.0,237.1 C1013.0,244.6 1003.4,247.8 996.2,247.8 C987.9,247.8 977.1,243.5 971.1,235.5 C965.1,226.4 965.1,212.4 969.3,204.4 C973.5,195.8 987.9,193.7 997.4,198.0 Z" fill="url(#shade)"/>
<ellipse cx="990.3" cy="209.2" rx="3.5" ry="2.5" fill="#fff" opacity="0.55" filter="url(#bl)"/>
<ellipse cx="1003.4" cy="207.6" rx="2.5" ry="2" fill="#fff" opacity="0.35" filter="url(#bl)"/>
<ellipse cx="984.3" cy="218.3" rx="2" ry="1.6" fill="#fff" opacity="0.25" filter="url(#bl)"/>
<path d="M975.4,189.5 Q985.4,202.2 995.4,198.2" stroke="#5C9A38" stroke-width="3" fill="none" stroke-linecap="round"/>
<path d="M987.4,188.5 Q991.4,202.2 995.4,198.2" stroke="#5C9A38" stroke-width="3" fill="none" stroke-linecap="round"/>
<path d="M1001.4,188.5 Q998.4,202.2 995.4,198.2" stroke="#5C9A38" stroke-width="3" fill="none" stroke-linecap="round"/>
<path d="M1013.4,190.5 Q1004.4,202.2 995.4,198.2" stroke="#5C9A38" stroke-width="3" fill="none" stroke-linecap="round"/>
<ellipse cx="995.4" cy="196.2" rx="5" ry="4" fill="#4E8A30"/>
</g>
<rect x="1032.10" y="190.50" width="68.00" height="60.40" fill="#060606"/>
<clipPath id="cp25"><rect x="1032.1" y="190.5" width="68.0" height="60.4"/></clipPath>
<g clip-path="url(#cp25)">
<path d="M1067.5,198.6 C1075.7,194.3 1089.2,193.7 1093.8,206.7 C1097.4,216.5 1095.6,228.4 1088.6,238.2 C1082.7,245.7 1073.3,249.0 1066.3,249.0 C1058.1,249.0 1047.5,244.7 1041.7,236.5 C1035.8,227.3 1035.8,213.2 1039.9,205.1 C1044.0,196.4 1058.1,194.3 1067.5,198.6 Z" fill="url(#g25)" filter="url(#bl2)"/>
<path d="M1067.5,198.6 C1075.7,194.3 1089.2,193.7 1093.8,206.7 C1097.4,216.5 1095.6,228.4 1088.6,238.2 C1082.7,245.7 1073.3,249.0 1066.3,249.0 C1058.1,249.0 1047.5,244.7 1041.7,236.5 C1035.8,227.3 1035.8,213.2 1039.9,205.1 C1044.0,196.4 1058.1,194.3 1067.5,198.6 Z" fill="url(#shade)"/>
<ellipse cx="1060.4" cy="210.0" rx="3.5" ry="2.5" fill="#fff" opacity="0.55" filter="url(#bl)"/>
<ellipse cx="1073.3" cy="208.4" rx="2.5" ry="2" fill="#fff" opacity="0.35" filter="url(#bl)"/>
<ellipse cx="1054.6" cy="219.2" rx="2" ry="1.6" fill="#fff" opacity="0.25" filter="url(#bl)"/>
<path d="M1047.5,189.5 Q1057.5,202.8 1067.5,198.8" stroke="#5C9A38" stroke-width="3" fill="none" stroke-linecap="round"/>
<path d="M1059.5,188.5 Q1063.5,202.8 1067.5,198.8" stroke="#5C9A38" stroke-width="3" fill="none" stroke-linecap="round"/>
<path d="M1073.5,188.5 Q1070.5,202.8 1067.5,198.8" stroke="#5C9A38" stroke-width="3" fill="none" stroke-linecap="round"/>
<path d="M1085.5,190.5 Q1076.5,202.8 1067.5,198.8" stroke="#5C9A38" stroke-width="3" fill="none" stroke-linecap="round"/>
<ellipse cx="1067.5" cy="196.8" rx="5" ry="4" fill="#4E8A30"/>
</g>
<text x="688.6" y="357.8" font-family='"Liberation Serif", serif' font-size="26" font-weight="bold" fill="#000" text-anchor="start" >G</text>
<line x1="737.70" y1="355.60" x2="737.70" y2="442.80" stroke="#222" stroke-width="1.2" stroke-linecap="butt"/>
<line x1="734.10" y1="442.20" x2="737.70" y2="442.20" stroke="#222" stroke-width="1.2" stroke-linecap="butt"/>
<text x="731.4" y="449.6" font-family='"Liberation Serif", serif' font-size="13.2" font-weight="bold" fill="#000" text-anchor="end" >0.0</text>
<line x1="734.10" y1="424.99" x2="737.70" y2="424.99" stroke="#222" stroke-width="1.2" stroke-linecap="butt"/>
<text x="731.4" y="432.39" font-family='"Liberation Serif", serif' font-size="13.2" font-weight="bold" fill="#000" text-anchor="end" >0.5</text>
<line x1="734.10" y1="407.78" x2="737.70" y2="407.78" stroke="#222" stroke-width="1.2" stroke-linecap="butt"/>
<text x="731.4" y="415.18" font-family='"Liberation Serif", serif' font-size="13.2" font-weight="bold" fill="#000" text-anchor="end" >1.0</text>
<line x1="734.10" y1="390.57" x2="737.70" y2="390.57" stroke="#222" stroke-width="1.2" stroke-linecap="butt"/>
<text x="731.4" y="397.97" font-family='"Liberation Serif", serif' font-size="13.2" font-weight="bold" fill="#000" text-anchor="end" >1.5</text>
<line x1="734.10" y1="373.36" x2="737.70" y2="373.36" stroke="#222" stroke-width="1.2" stroke-linecap="butt"/>
<text x="731.4" y="380.76" font-family='"Liberation Serif", serif' font-size="13.2" font-weight="bold" fill="#000" text-anchor="end" >2.0</text>
<line x1="734.10" y1="356.15" x2="737.70" y2="356.15" stroke="#222" stroke-width="1.2" stroke-linecap="butt"/>
<text x="731.4" y="363.55" font-family='"Liberation Serif", serif' font-size="13.2" font-weight="bold" fill="#000" text-anchor="end" >2.5</text>
<line x1="737.10" y1="442.20" x2="869.30" y2="442.20" stroke="#222" stroke-width="1.2" stroke-linecap="butt"/>
<rect x="753.95" y="382.30" width="18.20" height="6.90" fill="none" stroke="#000" stroke-width="1.5"/>
<line x1="753.95" y1="382.90" x2="772.15" y2="382.90" stroke="#000" stroke-width="1.5" stroke-linecap="butt"/>
<line x1="763.05" y1="382.30" x2="763.05" y2="381.10" stroke="#000" stroke-width="1.5" stroke-linecap="butt"/>
<line x1="758.25" y1="381.10" x2="767.85" y2="381.10" stroke="#000" stroke-width="1.5" stroke-linecap="butt"/>
<line x1="763.05" y1="389.20" x2="763.05" y2="393.20" stroke="#000" stroke-width="1.5" stroke-linecap="butt"/>
<line x1="758.25" y1="393.20" x2="767.85" y2="393.20" stroke="#000" stroke-width="1.5" stroke-linecap="butt"/>
<rect x="794.10" y="391.95" width="18.20" height="19.70" fill="none" stroke="#000" stroke-width="1.5"/>
<line x1="794.10" y1="399.30" x2="812.30" y2="399.30" stroke="#000" stroke-width="1.5" stroke-linecap="butt"/>
<line x1="803.20" y1="391.95" x2="803.20" y2="388.90" stroke="#000" stroke-width="1.5" stroke-linecap="butt"/>
<line x1="798.40" y1="388.90" x2="808.00" y2="388.90" stroke="#000" stroke-width="1.5" stroke-linecap="butt"/>
<line x1="803.20" y1="411.65" x2="803.20" y2="414.70" stroke="#000" stroke-width="1.5" stroke-linecap="butt"/>
<line x1="798.40" y1="414.70" x2="808.00" y2="414.70" stroke="#000" stroke-width="1.5" stroke-linecap="butt"/>
<rect x="834.90" y="387.50" width="18.20" height="16.20" fill="none" stroke="#000" stroke-width="1.5"/>
<line x1="834.90" y1="393.20" x2="853.10" y2="393.20" stroke="#000" stroke-width="1.5" stroke-linecap="butt"/>
<line x1="844.00" y1="387.50" x2="844.00" y2="383.00" stroke="#000" stroke-width="1.5" stroke-linecap="butt"/>
<line x1="839.20" y1="383.00" x2="848.80" y2="383.00" stroke="#000" stroke-width="1.5" stroke-linecap="butt"/>
<line x1="844.00" y1="403.70" x2="844.00" y2="413.70" stroke="#000" stroke-width="1.5" stroke-linecap="butt"/>
<line x1="839.20" y1="413.70" x2="848.80" y2="413.70" stroke="#000" stroke-width="1.5" stroke-linecap="butt"/>
<line x1="762.90" y1="442.20" x2="762.90" y2="444.60" stroke="#666" stroke-width="0.8" stroke-linecap="butt"/>
<line x1="803.40" y1="442.20" x2="803.40" y2="444.60" stroke="#666" stroke-width="0.8" stroke-linecap="butt"/>
<line x1="843.90" y1="442.20" x2="843.90" y2="444.60" stroke="#666" stroke-width="0.8" stroke-linecap="butt"/>
<text x="802.7" y="392.0" font-family='"Liberation Sans", sans-serif' font-size="10" font-weight="normal" fill="#000" text-anchor="middle" >*</text>
<text transform="translate(708.6,410.5) rotate(-90)" font-family='"Liberation Serif", serif' font-weight="bold" font-style="italic" font-size="14" text-anchor="middle">a</text>
<text transform="translate(708.3,402.8) rotate(-90)" font-family='"Liberation Serif", serif' font-size="13" text-anchor="middle" fill="#333">*</text>
<text transform="translate(771.75,457.55) scale(1,1.11) rotate(-45)" font-family='"Liberation Serif", serif' font-size="15" font-weight="bold" text-anchor="end">WT</text>
<text transform="translate(811.25,457.05) scale(1,1.11) rotate(-45)" font-family='"Liberation Serif", serif' font-size="15" font-weight="bold" text-anchor="end">cr-SlLCYe-4-8</text>
<text transform="translate(853.2,457.7) scale(1,1.11) rotate(-45)" font-family='"Liberation Serif", serif' font-size="15" font-weight="bold" text-anchor="end">cr-SlLCYe-17-7</text>
<text x="895.3" y="359.6" font-family='"Liberation Serif", serif' font-size="25.5" font-weight="bold" fill="#000" text-anchor="start" >H</text>
<line x1="939.40" y1="354.90" x2="939.40" y2="441.40" stroke="#222" stroke-width="1.2" stroke-linecap="butt"/>
<line x1="935.60" y1="440.80" x2="939.40" y2="440.80" stroke="#222" stroke-width="1.2" stroke-linecap="butt"/>
<text x="934.3" y="447.2" font-family='"Liberation Serif", serif' font-size="13.2" font-weight="bold" fill="#000" text-anchor="end" >15</text>
<line x1="935.60" y1="412.37" x2="939.40" y2="412.37" stroke="#222" stroke-width="1.2" stroke-linecap="butt"/>
<text x="934.3" y="418.77" font-family='"Liberation Serif", serif' font-size="13.2" font-weight="bold" fill="#000" text-anchor="end" >20</text>
<line x1="935.60" y1="383.94" x2="939.40" y2="383.94" stroke="#222" stroke-width="1.2" stroke-linecap="butt"/>
<text x="934.3" y="390.34" font-family='"Liberation Serif", serif' font-size="13.2" font-weight="bold" fill="#000" text-anchor="end" >25</text>
<line x1="935.60" y1="355.51" x2="939.40" y2="355.51" stroke="#222" stroke-width="1.2" stroke-linecap="butt"/>
<text x="934.3" y="361.91" font-family='"Liberation Serif", serif' font-size="13.2" font-weight="bold" fill="#000" text-anchor="end" >30</text>
<line x1="938.80" y1="440.80" x2="1070.60" y2="440.80" stroke="#222" stroke-width="1.2" stroke-linecap="butt"/>
<rect x="955.35" y="414.30" width="18.20" height="11.90" fill="none" stroke="#000" stroke-width="1.5"/>
<line x1="955.35" y1="416.80" x2="973.55" y2="416.80" stroke="#000" stroke-width="1.5" stroke-linecap="butt"/>
<line x1="964.45" y1="414.30" x2="964.45" y2="413.20" stroke="#000" stroke-width="1.5" stroke-linecap="butt"/>
<line x1="959.65" y1="413.20" x2="969.25" y2="413.20" stroke="#000" stroke-width="1.5" stroke-linecap="butt"/>
<line x1="964.45" y1="426.20" x2="964.45" y2="431.50" stroke="#000" stroke-width="1.5" stroke-linecap="butt"/>
<line x1="959.65" y1="431.50" x2="969.25" y2="431.50" stroke="#000" stroke-width="1.5" stroke-linecap="butt"/>
<rect x="995.85" y="371.50" width="18.20" height="12.40" fill="none" stroke="#000" stroke-width="1.5"/>
<line x1="995.85" y1="383.60" x2="1014.05" y2="383.60" stroke="#000" stroke-width="1.5" stroke-linecap="butt"/>
<line x1="1004.95" y1="371.50" x2="1004.95" y2="368.60" stroke="#000" stroke-width="1.5" stroke-linecap="butt"/>
<line x1="1000.15" y1="368.60" x2="1009.75" y2="368.60" stroke="#000" stroke-width="1.5" stroke-linecap="butt"/>
<line x1="1004.95" y1="383.90" x2="1004.95" y2="384.90" stroke="#000" stroke-width="1.5" stroke-linecap="butt"/>
<line x1="1000.15" y1="384.90" x2="1009.75" y2="384.90" stroke="#000" stroke-width="1.5" stroke-linecap="butt"/>
<rect x="1036.45" y="393.70" width="18.20" height="14.60" fill="none" stroke="#000" stroke-width="1.5"/>
<line x1="1036.45" y1="397.90" x2="1054.65" y2="397.90" stroke="#000" stroke-width="1.5" stroke-linecap="butt"/>
<line x1="1045.55" y1="393.70" x2="1045.55" y2="390.00" stroke="#000" stroke-width="1.5" stroke-linecap="butt"/>
<line x1="1040.75" y1="390.00" x2="1050.35" y2="390.00" stroke="#000" stroke-width="1.5" stroke-linecap="butt"/>
<line x1="1045.55" y1="408.30" x2="1045.55" y2="410.40" stroke="#000" stroke-width="1.5" stroke-linecap="butt"/>
<line x1="1040.75" y1="410.40" x2="1050.35" y2="410.40" stroke="#000" stroke-width="1.5" stroke-linecap="butt"/>
<line x1="964.30" y1="440.80" x2="964.30" y2="443.20" stroke="#666" stroke-width="0.8" stroke-linecap="butt"/>
<line x1="1004.60" y1="440.80" x2="1004.60" y2="443.20" stroke="#666" stroke-width="0.8" stroke-linecap="butt"/>
<line x1="1045.40" y1="440.80" x2="1045.40" y2="443.20" stroke="#666" stroke-width="0.8" stroke-linecap="butt"/>
<text x="1004.0" y="369.9" font-family='"Liberation Sans", sans-serif' font-size="12.5" font-weight="normal" fill="#000" text-anchor="middle" >**</text>
<text x="1045.3" y="392.4" font-family='"Liberation Sans", sans-serif' font-size="12.5" font-weight="normal" fill="#000" text-anchor="middle" >**</text>
<text transform="translate(915.3,408.5) rotate(-90)" font-family='"Liberation Serif", serif' font-weight="bold" font-style="italic" font-size="14" text-anchor="middle">b</text>
<text transform="translate(915.0,400.8) rotate(-90)" font-family='"Liberation Serif", serif' font-size="13" text-anchor="middle" fill="#333">*</text>
<text transform="translate(974.7,454.8) scale(1,1.11) rotate(-45)" font-family='"Liberation Serif", serif' font-size="15" font-weight="bold" text-anchor="end">WT</text>
<text transform="translate(1013.95,452.5) scale(1,1.11) rotate(-45)" font-family='"Liberation Serif", serif' font-size="15" font-weight="bold" text-anchor="end">cr-SlLCYe-4-8</text>
<text transform="translate(1055.9,454.05) scale(1,1.11) rotate(-45)" font-family='"Liberation Serif", serif' font-size="15" font-weight="bold" text-anchor="end">cr-SlLCYe-17-7</text>
</svg>
</body></html>
